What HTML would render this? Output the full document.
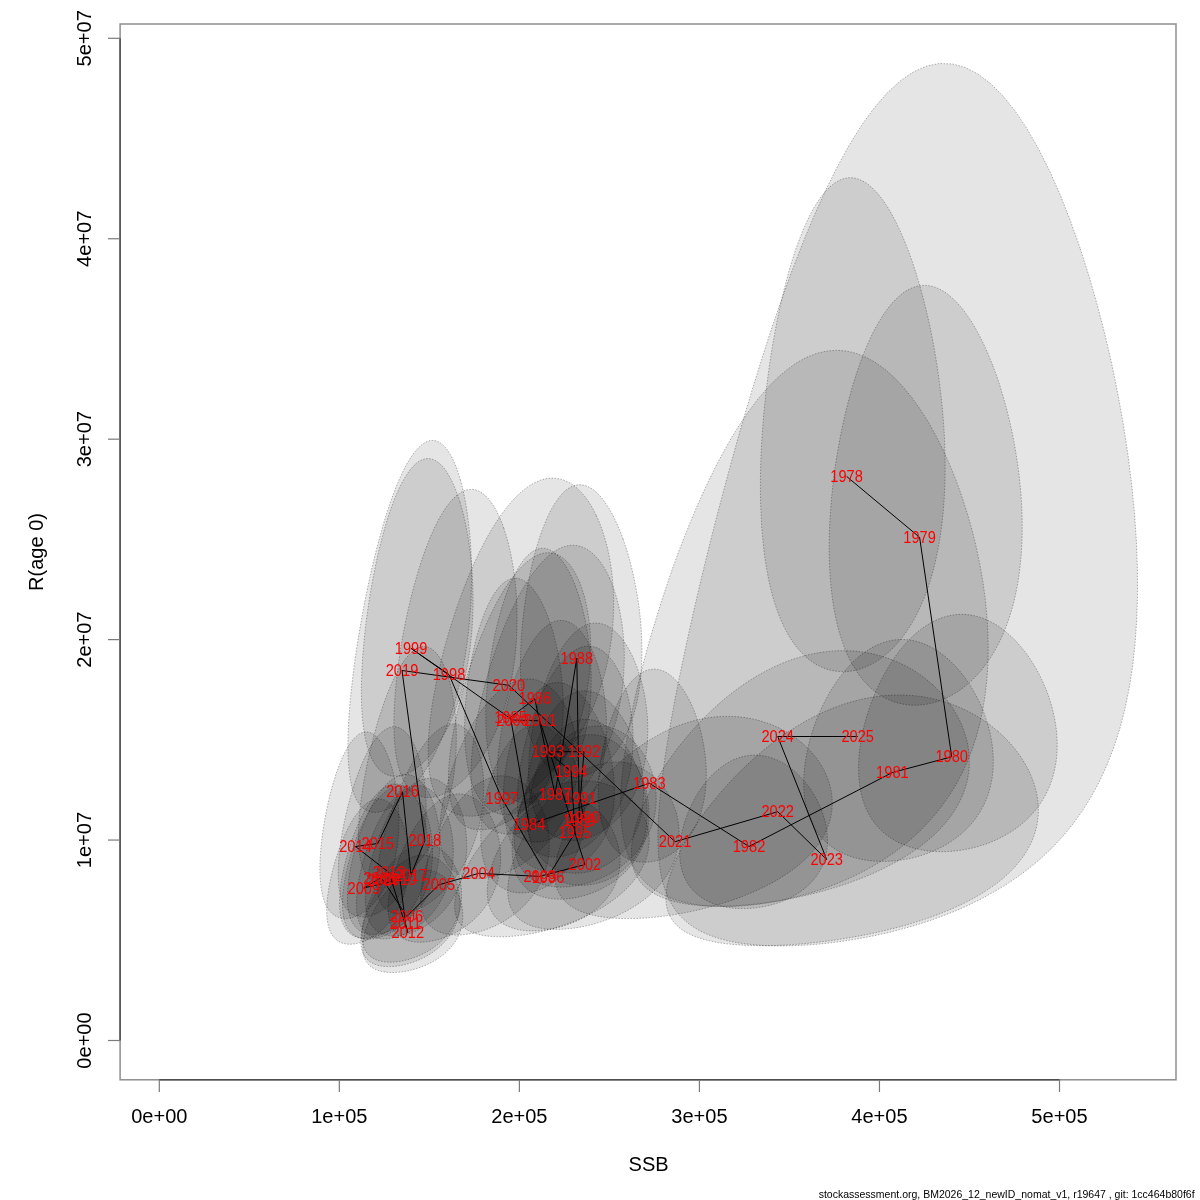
<!DOCTYPE html><html><head><meta charset="utf-8"><style>html,body{margin:0;padding:0;background:#fff;overflow:hidden}svg{display:block}</style></head><body><svg width="1200" height="1200" viewBox="0 0 1200 1200">
<rect width="1200" height="1200" fill="#fff"/>
<defs><clipPath id="c"><rect x="120" y="24" width="1056" height="1056"/></clipPath></defs>
<g clip-path="url(#c)">
<path d="M916.3,274.1 L912.6,262.5 L908.6,251.5 L904.5,241.0 L900.3,231.2 L895.9,222.0 L891.4,213.6 L886.9,206.0 L882.2,199.2 L877.5,193.3 L872.7,188.3 L867.9,184.2 L863.0,181.1 L858.2,179.0 L853.3,177.8 L848.4,177.7 L843.6,178.6 L838.9,180.5 L834.1,183.4 L829.5,187.2 L824.9,192.0 L820.4,197.7 L816.0,204.3 L811.7,211.7 L807.6,220.0 L803.6,228.9 L799.7,238.6 L795.9,248.9 L792.3,259.9 L788.9,271.3 L785.7,283.3 L782.6,295.6 L779.7,308.3 L777.0,321.3 L774.5,334.6 L772.1,348.0 L770.0,361.5 L768.1,375.2 L766.4,388.8 L764.9,402.4 L763.6,416.0 L762.5,429.4 L761.7,442.7 L761.0,455.7 L760.6,468.6 L760.4,481.2 L760.4,493.5 L760.7,505.4 L761.2,517.1 L761.8,528.4 L762.8,539.3 L763.9,549.8 L765.2,559.9 L766.8,569.6 L768.5,578.9 L770.5,587.7 L772.7,596.1 L775.0,604.1 L777.6,611.6 L780.4,618.7 L783.3,625.3 L786.4,631.5 L789.7,637.2 L793.2,642.5 L796.8,647.3 L800.6,651.7 L804.5,655.7 L808.6,659.2 L812.7,662.3 L817.0,664.9 L821.5,667.1 L826.0,668.9 L830.6,670.2 L835.2,671.1 L840.0,671.6 L844.8,671.7 L849.6,671.3 L854.4,670.5 L859.3,669.2 L864.2,667.6 L869.0,665.5 L873.8,662.9 L878.6,660.0 L883.3,656.6 L888.0,652.7 L892.5,648.4 L897.0,643.7 L901.3,638.5 L905.5,632.9 L909.6,626.8 L913.5,620.3 L917.2,613.3 L920.7,605.9 L924.1,598.0 L927.2,589.7 L930.1,581.0 L932.8,571.8 L935.2,562.2 L937.4,552.2 L939.4,541.8 L941.0,531.0 L942.4,519.8 L943.5,508.2 L944.3,496.3 L944.9,484.1 L945.1,471.6 L945.1,458.8 L944.8,445.8 L944.2,432.5 L943.3,419.2 L942.1,405.6 L940.6,392.0 L938.9,378.4 L936.9,364.7 L934.7,351.2 L932.2,337.7 L929.5,324.4 L926.5,311.4 L923.3,298.6 L919.9,286.1Z" fill="#000" fill-opacity="0.1" stroke="#000" stroke-opacity="0.3" stroke-width="1" stroke-dasharray="1.5,1.5"/>
<path d="M992.6,365.2 L988.7,355.5 L984.7,346.3 L980.4,337.5 L976.0,329.3 L971.5,321.7 L966.8,314.7 L962.1,308.4 L957.2,302.8 L952.3,297.9 L947.3,293.8 L942.3,290.5 L937.2,288.0 L932.2,286.3 L927.1,285.4 L922.0,285.4 L917.0,286.2 L912.0,287.9 L907.0,290.3 L902.2,293.6 L897.4,297.7 L892.6,302.6 L888.0,308.1 L883.5,314.4 L879.2,321.4 L874.9,329.0 L870.8,337.2 L866.9,345.9 L863.1,355.1 L859.5,364.8 L856.1,374.8 L852.8,385.2 L849.8,396.0 L846.9,406.9 L844.2,418.1 L841.8,429.5 L839.5,440.9 L837.5,452.5 L835.6,464.0 L834.0,475.5 L832.7,487.0 L831.5,498.4 L830.6,509.7 L829.9,520.8 L829.4,531.7 L829.2,542.4 L829.2,552.8 L829.5,563.0 L829.9,573.0 L830.6,582.6 L831.6,591.9 L832.7,600.9 L834.1,609.5 L835.7,617.8 L837.5,625.7 L839.6,633.3 L841.9,640.5 L844.3,647.3 L847.0,653.8 L849.9,659.9 L853.0,665.5 L856.2,670.8 L859.7,675.8 L863.3,680.3 L867.1,684.5 L871.0,688.2 L875.1,691.6 L879.4,694.6 L883.7,697.3 L888.2,699.5 L892.9,701.4 L897.6,702.9 L902.4,704.0 L907.2,704.8 L912.2,705.2 L917.2,705.2 L922.2,704.8 L927.3,704.1 L932.4,703.0 L937.5,701.5 L942.5,699.6 L947.5,697.4 L952.5,694.8 L957.5,691.8 L962.3,688.4 L967.0,684.6 L971.7,680.5 L976.2,676.0 L980.6,671.1 L984.8,665.8 L988.9,660.1 L992.8,654.1 L996.5,647.6 L1000.0,640.8 L1003.3,633.6 L1006.3,626.1 L1009.1,618.2 L1011.7,609.9 L1014.0,601.3 L1016.0,592.3 L1017.8,583.0 L1019.2,573.4 L1020.4,563.5 L1021.3,553.3 L1021.9,542.9 L1022.2,532.2 L1022.2,521.3 L1021.9,510.2 L1021.3,498.9 L1020.4,487.5 L1019.2,476.1 L1017.7,464.5 L1015.9,453.0 L1013.9,441.4 L1011.6,430.0 L1009.0,418.6 L1006.2,407.4 L1003.1,396.5 L999.9,385.7 L996.4,375.3Z" fill="#000" fill-opacity="0.1" stroke="#000" stroke-opacity="0.3" stroke-width="1" stroke-dasharray="1.5,1.5"/>
<path d="M1028.7,656.8 L1024.8,651.5 L1020.6,646.4 L1016.4,641.6 L1011.9,637.1 L1007.3,633.0 L1002.6,629.2 L997.8,625.8 L992.8,622.8 L987.8,620.3 L982.7,618.2 L977.5,616.5 L972.3,615.3 L967.1,614.6 L961.9,614.3 L956.7,614.5 L951.5,615.2 L946.3,616.4 L941.2,618.0 L936.1,620.1 L931.2,622.6 L926.3,625.5 L921.5,628.9 L916.8,632.6 L912.2,636.7 L907.8,641.2 L903.5,646.0 L899.4,651.0 L895.4,656.4 L891.6,661.9 L888.0,667.7 L884.5,673.7 L881.3,679.9 L878.2,686.1 L875.4,692.5 L872.7,698.9 L870.3,705.4 L868.1,712.0 L866.1,718.5 L864.3,725.0 L862.8,731.5 L861.5,737.9 L860.5,744.2 L859.6,750.4 L859.0,756.5 L858.7,762.5 L858.6,768.4 L858.7,774.1 L859.1,779.6 L859.7,784.9 L860.5,790.1 L861.6,795.1 L862.9,799.9 L864.5,804.5 L866.3,808.9 L868.3,813.0 L870.5,817.0 L872.9,820.7 L875.6,824.3 L878.5,827.6 L881.5,830.7 L884.8,833.6 L888.3,836.3 L891.9,838.7 L895.7,841.0 L899.7,843.0 L903.9,844.8 L908.2,846.4 L912.6,847.8 L917.2,849.0 L921.9,849.9 L926.7,850.7 L931.6,851.2 L936.6,851.5 L941.6,851.7 L946.8,851.6 L951.9,851.3 L957.1,850.7 L962.3,850.0 L967.6,849.1 L972.8,847.9 L978.0,846.5 L983.1,845.0 L988.2,843.2 L993.2,841.2 L998.2,838.9 L1003.0,836.5 L1007.7,833.8 L1012.3,831.0 L1016.7,827.9 L1021.0,824.6 L1025.1,821.1 L1029.0,817.3 L1032.7,813.4 L1036.2,809.2 L1039.4,804.9 L1042.4,800.3 L1045.2,795.5 L1047.7,790.5 L1049.9,785.4 L1051.8,780.1 L1053.5,774.5 L1054.8,768.9 L1055.9,763.0 L1056.6,757.1 L1057.1,751.0 L1057.2,744.7 L1057.0,738.4 L1056.6,732.0 L1055.8,725.6 L1054.7,719.1 L1053.3,712.5 L1051.7,706.0 L1049.7,699.5 L1047.5,693.1 L1044.9,686.7 L1042.2,680.4 L1039.1,674.2 L1035.9,668.3 L1032.4,662.4Z" fill="#000" fill-opacity="0.1" stroke="#000" stroke-opacity="0.3" stroke-width="1" stroke-dasharray="1.5,1.5"/>
<path d="M966.0,679.1 L962.2,674.1 L958.3,669.4 L954.2,664.9 L950.0,660.7 L945.6,656.9 L941.0,653.4 L936.4,650.2 L931.7,647.4 L926.9,645.1 L922.0,643.1 L917.1,641.5 L912.1,640.4 L907.1,639.7 L902.1,639.5 L897.1,639.7 L892.2,640.3 L887.3,641.4 L882.4,642.9 L877.5,644.9 L872.8,647.2 L868.1,650.0 L863.6,653.1 L859.1,656.6 L854.7,660.4 L850.5,664.5 L846.4,669.0 L842.5,673.7 L838.7,678.7 L835.1,683.9 L831.6,689.3 L828.3,694.9 L825.3,700.6 L822.3,706.5 L819.6,712.4 L817.1,718.4 L814.8,724.5 L812.7,730.6 L810.8,736.7 L809.2,742.8 L807.7,748.8 L806.5,754.8 L805.5,760.7 L804.7,766.5 L804.1,772.3 L803.8,777.9 L803.7,783.3 L803.8,788.6 L804.2,793.8 L804.7,798.8 L805.5,803.7 L806.6,808.3 L807.8,812.8 L809.3,817.1 L811.0,821.2 L812.9,825.1 L815.0,828.9 L817.3,832.4 L819.9,835.7 L822.6,838.8 L825.5,841.7 L828.6,844.4 L831.9,847.0 L835.4,849.3 L839.0,851.4 L842.8,853.3 L846.8,855.0 L850.9,856.5 L855.1,857.8 L859.5,858.9 L863.9,859.8 L868.5,860.5 L873.2,861.0 L878.0,861.3 L882.8,861.4 L887.7,861.3 L892.6,861.0 L897.6,860.5 L902.6,859.8 L907.6,859.0 L912.5,857.9 L917.5,856.6 L922.4,855.1 L927.3,853.4 L932.1,851.5 L936.8,849.5 L941.4,847.2 L946.0,844.7 L950.3,842.0 L954.6,839.1 L958.7,836.0 L962.6,832.7 L966.3,829.2 L969.9,825.5 L973.2,821.6 L976.3,817.5 L979.2,813.2 L981.8,808.7 L984.2,804.1 L986.3,799.3 L988.2,794.3 L989.7,789.1 L991.0,783.8 L992.1,778.3 L992.8,772.7 L993.2,767.0 L993.3,761.2 L993.2,755.3 L992.7,749.3 L992.0,743.3 L990.9,737.2 L989.6,731.1 L988.0,725.0 L986.1,719.0 L984.0,712.9 L981.6,707.0 L978.9,701.1 L976.0,695.4 L972.9,689.8 L969.6,684.4Z" fill="#000" fill-opacity="0.1" stroke="#000" stroke-opacity="0.3" stroke-width="1" stroke-dasharray="1.5,1.5"/>
<path d="M805.7,782.9 L802.8,779.4 L799.7,776.1 L796.5,773.0 L793.2,770.1 L789.7,767.5 L786.2,765.0 L782.6,762.8 L778.9,760.9 L775.1,759.2 L771.3,757.8 L767.5,756.7 L763.6,755.9 L759.7,755.3 L755.8,755.1 L752.0,755.2 L748.1,755.6 L744.3,756.3 L740.5,757.2 L736.7,758.5 L733.0,760.0 L729.4,761.9 L725.8,763.9 L722.4,766.3 L719.0,768.9 L715.7,771.7 L712.5,774.7 L709.5,777.9 L706.5,781.2 L703.7,784.8 L701.1,788.4 L698.5,792.2 L696.1,796.2 L693.9,800.2 L691.8,804.2 L689.9,808.4 L688.1,812.5 L686.5,816.7 L685.0,820.9 L683.8,825.1 L682.7,829.3 L681.7,833.5 L681.0,837.6 L680.4,841.6 L680.0,845.6 L679.8,849.5 L679.7,853.3 L679.8,857.0 L680.2,860.6 L680.6,864.1 L681.3,867.5 L682.1,870.8 L683.2,874.0 L684.3,877.0 L685.7,879.9 L687.2,882.7 L688.9,885.3 L690.8,887.8 L692.8,890.1 L694.9,892.3 L697.2,894.4 L699.7,896.3 L702.3,898.1 L705.0,899.8 L707.9,901.3 L710.9,902.7 L714.0,903.9 L717.2,905.0 L720.6,905.9 L724.0,906.7 L727.5,907.4 L731.1,907.9 L734.7,908.3 L738.5,908.5 L742.2,908.6 L746.1,908.6 L749.9,908.4 L753.8,908.1 L757.7,907.6 L761.6,907.0 L765.4,906.3 L769.3,905.4 L773.1,904.4 L776.9,903.3 L780.6,902.0 L784.3,900.5 L787.9,898.9 L791.4,897.2 L794.7,895.3 L798.0,893.3 L801.2,891.2 L804.2,888.9 L807.1,886.5 L809.8,883.9 L812.3,881.2 L814.7,878.4 L816.9,875.4 L818.9,872.3 L820.7,869.1 L822.4,865.7 L823.8,862.3 L824.9,858.7 L825.9,855.1 L826.6,851.3 L827.2,847.4 L827.5,843.5 L827.5,839.5 L827.3,835.4 L826.9,831.3 L826.3,827.1 L825.5,822.9 L824.4,818.7 L823.1,814.5 L821.6,810.3 L819.9,806.2 L818.0,802.1 L815.9,798.0 L813.6,794.1 L811.2,790.2 L808.5,786.5Z" fill="#000" fill-opacity="0.1" stroke="#000" stroke-opacity="0.3" stroke-width="1" stroke-dasharray="1.5,1.5"/>
<path d="M690.8,703.1 L688.6,698.9 L686.4,694.8 L684.1,691.0 L681.7,687.4 L679.2,684.1 L676.6,681.1 L674.0,678.4 L671.3,676.0 L668.6,674.0 L665.9,672.3 L663.1,670.9 L660.2,670.0 L657.4,669.4 L654.6,669.1 L651.7,669.3 L648.9,669.8 L646.1,670.6 L643.3,671.9 L640.6,673.5 L637.8,675.4 L635.2,677.7 L632.6,680.3 L630.0,683.2 L627.5,686.5 L625.1,690.0 L622.8,693.7 L620.5,697.7 L618.3,701.9 L616.2,706.3 L614.3,710.9 L612.4,715.7 L610.6,720.6 L608.9,725.6 L607.4,730.7 L605.9,735.8 L604.6,741.0 L603.4,746.3 L602.3,751.6 L601.4,756.8 L600.5,762.1 L599.8,767.3 L599.2,772.4 L598.8,777.5 L598.5,782.5 L598.3,787.4 L598.3,792.2 L598.3,796.9 L598.6,801.5 L598.9,805.9 L599.4,810.2 L600.0,814.3 L600.7,818.3 L601.6,822.2 L602.6,825.8 L603.7,829.3 L605.0,832.7 L606.3,835.8 L607.8,838.8 L609.4,841.6 L611.1,844.3 L612.9,846.7 L614.8,849.0 L616.8,851.1 L618.9,853.0 L621.1,854.7 L623.4,856.3 L625.8,857.7 L628.2,858.9 L630.7,859.9 L633.3,860.7 L635.9,861.4 L638.6,861.8 L641.3,862.1 L644.1,862.2 L646.9,862.2 L649.7,861.9 L652.5,861.5 L655.4,860.9 L658.2,860.1 L661.0,859.2 L663.8,858.0 L666.6,856.7 L669.4,855.2 L672.1,853.5 L674.8,851.6 L677.4,849.6 L679.9,847.4 L682.4,845.0 L684.7,842.4 L687.0,839.6 L689.2,836.7 L691.3,833.6 L693.3,830.3 L695.2,826.8 L696.9,823.2 L698.5,819.4 L700.0,815.5 L701.3,811.4 L702.4,807.1 L703.5,802.7 L704.3,798.2 L705.1,793.5 L705.6,788.8 L706.0,783.9 L706.2,778.9 L706.3,773.8 L706.2,768.7 L705.9,763.5 L705.5,758.3 L704.9,753.0 L704.1,747.8 L703.2,742.5 L702.1,737.3 L700.9,732.1 L699.6,727.0 L698.1,721.9 L696.4,717.0 L694.7,712.2 L692.8,707.6Z" fill="#000" fill-opacity="0.1" stroke="#000" stroke-opacity="0.3" stroke-width="1" stroke-dasharray="1.5,1.5"/>
<path d="M570.4,752.9 L568.4,749.2 L566.2,745.8 L564.0,742.5 L561.7,739.5 L559.3,736.8 L556.8,734.2 L554.3,732.0 L551.7,730.1 L549.1,728.4 L546.4,727.1 L543.7,726.1 L541.0,725.4 L538.3,725.0 L535.6,725.0 L532.8,725.2 L530.1,725.9 L527.4,726.8 L524.7,728.0 L522.1,729.6 L519.4,731.5 L516.9,733.6 L514.4,736.1 L511.9,738.8 L509.5,741.7 L507.2,744.9 L504.9,748.3 L502.7,751.9 L500.6,755.7 L498.6,759.7 L496.7,763.7 L494.9,768.0 L493.2,772.3 L491.5,776.7 L490.0,781.2 L488.6,785.7 L487.3,790.3 L486.1,794.9 L485.1,799.5 L484.1,804.1 L483.3,808.6 L482.6,813.1 L482.0,817.6 L481.5,822.0 L481.1,826.3 L480.9,830.5 L480.8,834.6 L480.8,838.6 L481.0,842.5 L481.2,846.3 L481.6,849.9 L482.1,853.5 L482.7,856.8 L483.5,860.1 L484.4,863.2 L485.3,866.1 L486.4,868.9 L487.7,871.6 L489.0,874.1 L490.4,876.4 L492.0,878.6 L493.6,880.6 L495.4,882.5 L497.2,884.2 L499.1,885.8 L501.2,887.2 L503.3,888.4 L505.5,889.5 L507.8,890.5 L510.1,891.3 L512.5,891.9 L515.0,892.4 L517.5,892.7 L520.1,892.9 L522.8,892.9 L525.4,892.8 L528.1,892.5 L530.8,892.0 L533.5,891.5 L536.3,890.7 L539.0,889.8 L541.7,888.7 L544.5,887.5 L547.1,886.2 L549.8,884.6 L552.4,883.0 L555.0,881.1 L557.5,879.1 L559.9,877.0 L562.3,874.7 L564.6,872.2 L566.8,869.6 L568.9,866.9 L570.9,864.0 L572.8,860.9 L574.6,857.7 L576.2,854.4 L577.7,850.9 L579.1,847.3 L580.3,843.5 L581.4,839.7 L582.3,835.7 L583.1,831.6 L583.7,827.4 L584.2,823.1 L584.5,818.7 L584.7,814.3 L584.6,809.8 L584.5,805.3 L584.1,800.7 L583.6,796.1 L582.9,791.5 L582.1,786.9 L581.1,782.4 L580.0,777.9 L578.7,773.5 L577.3,769.1 L575.8,764.8 L574.1,760.7 L572.3,756.7Z" fill="#000" fill-opacity="0.1" stroke="#000" stroke-opacity="0.3" stroke-width="1" stroke-dasharray="1.5,1.5"/>
<path d="M548.8,619.3 L546.9,614.1 L544.8,609.2 L542.6,604.5 L540.4,600.2 L538.1,596.2 L535.7,592.6 L533.3,589.3 L530.9,586.4 L528.3,584.0 L525.8,581.9 L523.2,580.3 L520.6,579.2 L518.0,578.4 L515.4,578.2 L512.8,578.4 L510.3,579.0 L507.7,580.1 L505.2,581.6 L502.7,583.6 L500.2,586.0 L497.8,588.8 L495.4,592.0 L493.1,595.5 L490.9,599.4 L488.7,603.7 L486.6,608.3 L484.5,613.2 L482.6,618.3 L480.7,623.7 L478.9,629.3 L477.2,635.1 L475.7,641.1 L474.2,647.2 L472.8,653.4 L471.5,659.7 L470.3,666.1 L469.2,672.5 L468.3,678.9 L467.4,685.3 L466.7,691.7 L466.0,698.1 L465.5,704.4 L465.1,710.6 L464.8,716.7 L464.7,722.8 L464.6,728.6 L464.7,734.4 L464.9,740.0 L465.2,745.4 L465.6,750.7 L466.1,755.8 L466.8,760.7 L467.5,765.4 L468.4,769.9 L469.4,774.2 L470.5,778.3 L471.7,782.2 L473.0,785.8 L474.4,789.3 L475.9,792.5 L477.5,795.5 L479.3,798.3 L481.0,800.9 L482.9,803.3 L484.9,805.4 L486.9,807.3 L489.1,809.0 L491.3,810.4 L493.5,811.7 L495.8,812.7 L498.2,813.5 L500.6,814.1 L503.1,814.4 L505.6,814.6 L508.2,814.5 L510.7,814.2 L513.3,813.6 L515.9,812.9 L518.5,811.9 L521.1,810.7 L523.7,809.3 L526.3,807.6 L528.8,805.8 L531.3,803.7 L533.8,801.3 L536.2,798.8 L538.5,796.1 L540.8,793.1 L543.0,789.9 L545.2,786.5 L547.2,782.8 L549.2,779.0 L551.0,774.9 L552.8,770.7 L554.4,766.2 L555.9,761.5 L557.3,756.7 L558.5,751.6 L559.6,746.4 L560.6,741.0 L561.4,735.4 L562.1,729.7 L562.6,723.8 L563.0,717.9 L563.2,711.8 L563.3,705.5 L563.2,699.3 L562.9,692.9 L562.5,686.5 L562.0,680.1 L561.3,673.6 L560.4,667.2 L559.4,660.8 L558.3,654.5 L557.0,648.3 L555.6,642.2 L554.1,636.2 L552.5,630.3 L550.7,624.7Z" fill="#000" fill-opacity="0.1" stroke="#000" stroke-opacity="0.3" stroke-width="1" stroke-dasharray="1.5,1.5"/>
<path d="M576.8,589.9 L574.8,584.4 L572.6,579.3 L570.4,574.4 L568.0,569.9 L565.6,565.8 L563.1,562.0 L560.5,558.7 L557.9,555.8 L555.3,553.4 L552.6,551.4 L549.8,549.9 L547.1,548.9 L544.3,548.4 L541.5,548.3 L538.7,548.8 L536.0,549.7 L533.2,551.1 L530.5,553.1 L527.8,555.4 L525.1,558.2 L522.5,561.5 L520.0,565.2 L517.5,569.2 L515.0,573.7 L512.7,578.5 L510.4,583.6 L508.1,589.1 L506.0,594.8 L504.0,600.7 L502.0,606.9 L500.2,613.3 L498.4,619.8 L496.8,626.5 L495.2,633.3 L493.8,640.1 L492.5,647.1 L491.2,654.0 L490.1,660.9 L489.2,667.9 L488.3,674.8 L487.6,681.6 L487.0,688.4 L486.5,695.0 L486.1,701.6 L485.9,708.0 L485.8,714.2 L485.8,720.3 L485.9,726.3 L486.2,732.0 L486.5,737.6 L487.1,742.9 L487.7,748.1 L488.4,753.1 L489.3,757.8 L490.3,762.3 L491.4,766.6 L492.6,770.6 L494.0,774.4 L495.4,778.0 L497.0,781.4 L498.7,784.5 L500.4,787.4 L502.3,790.0 L504.3,792.4 L506.3,794.6 L508.5,796.5 L510.7,798.2 L513.0,799.6 L515.4,800.8 L517.8,801.8 L520.4,802.5 L522.9,803.0 L525.5,803.3 L528.2,803.3 L530.9,803.1 L533.6,802.6 L536.4,801.9 L539.2,801.0 L541.9,799.8 L544.7,798.4 L547.5,796.7 L550.2,794.9 L553.0,792.7 L555.7,790.4 L558.3,787.8 L560.9,784.9 L563.5,781.9 L566.0,778.5 L568.4,775.0 L570.7,771.2 L573.0,767.2 L575.1,763.0 L577.1,758.5 L579.1,753.8 L580.9,748.9 L582.5,743.7 L584.1,738.4 L585.5,732.9 L586.7,727.2 L587.9,721.2 L588.8,715.2 L589.6,708.9 L590.3,702.5 L590.7,696.0 L591.1,689.4 L591.2,682.6 L591.2,675.8 L591.0,668.9 L590.7,662.0 L590.2,655.1 L589.5,648.1 L588.7,641.2 L587.7,634.3 L586.6,627.5 L585.3,620.8 L583.8,614.3 L582.3,607.9 L580.6,601.7 L578.8,595.7Z" fill="#000" fill-opacity="0.1" stroke="#000" stroke-opacity="0.3" stroke-width="1" stroke-dasharray="1.5,1.5"/>
<path d="M597.1,718.0 L594.8,713.7 L592.4,709.7 L589.9,705.8 L587.4,702.1 L584.8,698.8 L582.1,695.7 L579.3,692.9 L576.5,690.4 L573.6,688.2 L570.7,686.4 L567.8,684.9 L564.9,683.7 L562.0,683.0 L559.1,682.6 L556.1,682.5 L553.3,682.9 L550.4,683.6 L547.5,684.6 L544.7,686.0 L542.0,687.8 L539.3,689.9 L536.7,692.3 L534.1,695.1 L531.6,698.1 L529.2,701.4 L526.8,705.0 L524.6,708.8 L522.5,712.9 L520.4,717.1 L518.4,721.6 L516.6,726.2 L514.9,730.9 L513.2,735.8 L511.7,740.8 L510.3,745.8 L509.1,750.9 L507.9,756.1 L506.9,761.2 L506.0,766.4 L505.2,771.5 L504.6,776.6 L504.1,781.7 L503.7,786.7 L503.4,791.7 L503.3,796.5 L503.3,801.3 L503.5,805.9 L503.8,810.4 L504.2,814.8 L504.7,819.0 L505.4,823.2 L506.2,827.1 L507.1,830.9 L508.1,834.6 L509.3,838.1 L510.6,841.4 L512.0,844.5 L513.6,847.5 L515.2,850.3 L517.0,853.0 L518.8,855.4 L520.8,857.7 L522.9,859.9 L525.1,861.8 L527.3,863.6 L529.7,865.1 L532.1,866.6 L534.6,867.8 L537.2,868.9 L539.9,869.8 L542.6,870.5 L545.3,871.0 L548.1,871.4 L551.0,871.6 L553.9,871.6 L556.8,871.4 L559.7,871.1 L562.6,870.6 L565.5,869.9 L568.4,869.1 L571.4,868.0 L574.2,866.8 L577.1,865.5 L579.9,863.9 L582.6,862.2 L585.3,860.3 L587.9,858.2 L590.5,855.9 L592.9,853.5 L595.3,850.9 L597.5,848.1 L599.7,845.2 L601.7,842.1 L603.6,838.8 L605.3,835.3 L607.0,831.7 L608.4,827.9 L609.8,824.0 L610.9,819.9 L611.9,815.7 L612.8,811.3 L613.5,806.8 L614.0,802.2 L614.3,797.5 L614.4,792.7 L614.4,787.8 L614.2,782.8 L613.9,777.7 L613.3,772.6 L612.6,767.5 L611.7,762.3 L610.7,757.1 L609.5,752.0 L608.1,746.9 L606.6,741.8 L605.0,736.8 L603.2,731.9 L601.3,727.2 L599.2,722.5Z" fill="#000" fill-opacity="0.1" stroke="#000" stroke-opacity="0.3" stroke-width="1" stroke-dasharray="1.5,1.5"/>
<path d="M623.1,539.1 L620.6,532.4 L618.0,526.1 L615.3,520.2 L612.5,514.6 L609.6,509.4 L606.6,504.7 L603.6,500.4 L600.6,496.6 L597.4,493.2 L594.3,490.5 L591.1,488.2 L587.9,486.5 L584.7,485.3 L581.5,484.8 L578.3,484.8 L575.1,485.3 L572.0,486.4 L568.9,488.1 L565.8,490.3 L562.8,493.1 L559.9,496.4 L557.0,500.2 L554.2,504.5 L551.5,509.2 L548.8,514.3 L546.3,519.9 L543.8,525.9 L541.5,532.1 L539.2,538.8 L537.1,545.6 L535.1,552.8 L533.2,560.1 L531.4,567.7 L529.7,575.4 L528.2,583.2 L526.8,591.1 L525.6,599.0 L524.4,607.0 L523.4,615.0 L522.6,623.0 L521.9,630.9 L521.3,638.7 L520.9,646.4 L520.6,654.1 L520.5,661.6 L520.5,668.9 L520.6,676.1 L520.9,683.0 L521.3,689.8 L521.9,696.4 L522.6,702.7 L523.5,708.8 L524.5,714.7 L525.6,720.3 L526.9,725.7 L528.3,730.9 L529.8,735.7 L531.5,740.3 L533.3,744.7 L535.2,748.7 L537.2,752.5 L539.3,756.1 L541.6,759.3 L543.9,762.3 L546.4,765.0 L548.9,767.5 L551.6,769.6 L554.3,771.5 L557.1,773.2 L560.0,774.5 L563.0,775.6 L566.0,776.4 L569.0,777.0 L572.1,777.2 L575.3,777.2 L578.5,777.0 L581.6,776.4 L584.8,775.6 L588.1,774.6 L591.2,773.2 L594.4,771.6 L597.6,769.7 L600.7,767.6 L603.8,765.1 L606.8,762.4 L609.7,759.5 L612.6,756.2 L615.4,752.7 L618.1,748.9 L620.7,744.9 L623.2,740.5 L625.5,735.9 L627.7,731.1 L629.8,726.0 L631.8,720.6 L633.6,715.0 L635.2,709.1 L636.7,703.0 L638.0,696.7 L639.1,690.1 L640.0,683.3 L640.8,676.4 L641.4,669.2 L641.7,661.9 L641.9,654.4 L641.9,646.8 L641.7,639.1 L641.3,631.2 L640.8,623.3 L640.0,615.3 L639.1,607.4 L637.9,599.4 L636.6,591.4 L635.1,583.5 L633.5,575.7 L631.7,568.0 L629.7,560.5 L627.7,553.1 L625.4,545.9Z" fill="#000" fill-opacity="0.1" stroke="#000" stroke-opacity="0.3" stroke-width="1" stroke-dasharray="1.5,1.5"/>
<path d="M639.4,748.2 L636.8,745.0 L634.0,742.0 L631.1,739.2 L628.0,736.6 L624.8,734.3 L621.5,732.2 L618.1,730.4 L614.6,728.9 L611.1,727.7 L607.5,726.8 L603.8,726.2 L600.1,725.9 L596.4,726.0 L592.7,726.3 L588.9,726.9 L585.2,727.9 L581.4,729.1 L577.7,730.6 L574.1,732.4 L570.5,734.5 L566.9,736.9 L563.4,739.4 L560.0,742.3 L556.7,745.3 L553.4,748.6 L550.2,752.0 L547.2,755.6 L544.2,759.4 L541.4,763.3 L538.7,767.3 L536.1,771.5 L533.6,775.7 L531.3,780.0 L529.1,784.3 L527.1,788.7 L525.2,793.1 L523.4,797.4 L521.8,801.8 L520.4,806.2 L519.1,810.5 L517.9,814.7 L516.9,818.9 L516.1,823.1 L515.5,827.1 L515.0,831.1 L514.6,834.9 L514.5,838.7 L514.4,842.3 L514.6,845.8 L514.9,849.2 L515.4,852.4 L516.0,855.5 L516.9,858.5 L517.8,861.4 L518.9,864.1 L520.2,866.6 L521.7,869.0 L523.2,871.3 L525.0,873.4 L526.9,875.3 L528.9,877.2 L531.1,878.8 L533.4,880.3 L535.8,881.7 L538.4,882.9 L541.1,883.9 L543.9,884.8 L546.9,885.6 L549.9,886.2 L553.1,886.6 L556.3,886.9 L559.7,887.1 L563.1,887.0 L566.6,886.9 L570.1,886.6 L573.7,886.1 L577.4,885.5 L581.1,884.7 L584.8,883.8 L588.5,882.8 L592.3,881.5 L596.0,880.2 L599.7,878.7 L603.4,877.0 L607.1,875.2 L610.7,873.2 L614.3,871.1 L617.8,868.8 L621.2,866.4 L624.5,863.8 L627.7,861.1 L630.7,858.2 L633.7,855.2 L636.5,852.1 L639.2,848.8 L641.7,845.4 L644.0,841.9 L646.1,838.3 L648.1,834.5 L649.9,830.7 L651.4,826.7 L652.8,822.6 L653.9,818.5 L654.8,814.3 L655.5,810.0 L656.0,805.7 L656.2,801.4 L656.2,797.0 L656.0,792.6 L655.6,788.2 L654.9,783.9 L654.0,779.5 L652.9,775.3 L651.6,771.0 L650.0,766.9 L648.3,762.9 L646.3,759.0 L644.2,755.3 L641.9,751.7Z" fill="#000" fill-opacity="0.1" stroke="#000" stroke-opacity="0.3" stroke-width="1" stroke-dasharray="1.5,1.5"/>
<path d="M628.4,750.4 L625.9,746.6 L623.4,743.0 L620.7,739.7 L618.0,736.5 L615.1,733.5 L612.2,730.8 L609.3,728.4 L606.3,726.2 L603.2,724.3 L600.1,722.7 L597.0,721.4 L593.9,720.3 L590.7,719.7 L587.6,719.3 L584.5,719.2 L581.4,719.5 L578.3,720.1 L575.2,721.0 L572.2,722.2 L569.3,723.7 L566.4,725.5 L563.6,727.6 L560.8,730.0 L558.2,732.6 L555.6,735.5 L553.1,738.6 L550.7,741.9 L548.4,745.5 L546.2,749.2 L544.1,753.0 L542.1,757.0 L540.3,761.2 L538.5,765.4 L536.9,769.8 L535.5,774.2 L534.1,778.6 L532.9,783.1 L531.8,787.6 L530.8,792.2 L530.0,796.7 L529.3,801.2 L528.8,805.6 L528.4,810.0 L528.1,814.4 L528.0,818.6 L528.0,822.8 L528.2,826.9 L528.5,830.9 L528.9,834.8 L529.5,838.5 L530.3,842.2 L531.1,845.7 L532.1,849.0 L533.2,852.3 L534.5,855.4 L535.9,858.3 L537.4,861.1 L539.1,863.8 L540.9,866.3 L542.8,868.6 L544.8,870.8 L546.9,872.9 L549.1,874.8 L551.4,876.5 L553.9,878.1 L556.4,879.5 L559.0,880.8 L561.7,881.9 L564.5,882.8 L567.3,883.6 L570.2,884.3 L573.2,884.8 L576.2,885.1 L579.3,885.3 L582.3,885.3 L585.5,885.2 L588.6,884.9 L591.7,884.4 L594.9,883.8 L598.0,883.1 L601.1,882.2 L604.2,881.1 L607.2,879.9 L610.2,878.5 L613.2,877.0 L616.0,875.3 L618.8,873.5 L621.6,871.5 L624.2,869.3 L626.7,867.0 L629.1,864.6 L631.4,862.0 L633.6,859.2 L635.6,856.3 L637.5,853.3 L639.2,850.1 L640.8,846.8 L642.2,843.3 L643.4,839.7 L644.5,836.0 L645.4,832.1 L646.1,828.2 L646.6,824.1 L647.0,820.0 L647.1,815.7 L647.1,811.4 L646.9,807.0 L646.5,802.6 L645.9,798.1 L645.1,793.6 L644.2,789.1 L643.0,784.6 L641.7,780.1 L640.3,775.6 L638.7,771.1 L636.9,766.8 L635.0,762.5 L632.9,758.3 L630.7,754.3Z" fill="#000" fill-opacity="0.1" stroke="#000" stroke-opacity="0.3" stroke-width="1" stroke-dasharray="1.5,1.5"/>
<path d="M625.8,723.5 L623.4,719.4 L620.9,715.6 L618.3,711.9 L615.7,708.5 L612.9,705.3 L610.0,702.5 L607.1,699.9 L604.1,697.6 L601.1,695.6 L598.1,694.0 L595.0,692.6 L591.9,691.7 L588.8,691.0 L585.6,690.8 L582.5,690.8 L579.4,691.3 L576.4,692.1 L573.3,693.2 L570.4,694.7 L567.4,696.4 L564.5,698.6 L561.7,701.0 L558.9,703.7 L556.3,706.7 L553.7,710.0 L551.2,713.5 L548.7,717.3 L546.4,721.2 L544.2,725.4 L542.1,729.7 L540.1,734.2 L538.2,738.8 L536.4,743.5 L534.8,748.3 L533.3,753.2 L531.9,758.1 L530.6,763.1 L529.5,768.0 L528.5,773.0 L527.6,778.0 L526.9,782.9 L526.3,787.8 L525.8,792.6 L525.5,797.3 L525.3,802.0 L525.3,806.5 L525.4,810.9 L525.7,815.3 L526.1,819.5 L526.6,823.5 L527.2,827.5 L528.1,831.3 L529.0,834.9 L530.1,838.4 L531.3,841.7 L532.6,844.9 L534.1,847.9 L535.7,850.7 L537.4,853.4 L539.2,855.9 L541.2,858.3 L543.2,860.4 L545.4,862.4 L547.7,864.2 L550.1,865.9 L552.5,867.4 L555.1,868.7 L557.7,869.9 L560.5,870.8 L563.3,871.6 L566.1,872.3 L569.0,872.8 L572.0,873.1 L575.0,873.2 L578.1,873.1 L581.2,872.9 L584.3,872.6 L587.4,872.0 L590.5,871.3 L593.6,870.4 L596.7,869.4 L599.8,868.1 L602.8,866.7 L605.8,865.2 L608.7,863.4 L611.6,861.5 L614.4,859.5 L617.2,857.2 L619.8,854.8 L622.3,852.2 L624.8,849.5 L627.1,846.6 L629.3,843.5 L631.3,840.2 L633.3,836.8 L635.0,833.3 L636.7,829.6 L638.1,825.7 L639.4,821.7 L640.6,817.6 L641.5,813.4 L642.3,809.0 L642.9,804.5 L643.3,799.9 L643.5,795.2 L643.6,790.4 L643.4,785.6 L643.1,780.7 L642.6,775.7 L641.9,770.8 L641.0,765.8 L640.0,760.8 L638.7,755.9 L637.3,751.0 L635.8,746.1 L634.1,741.4 L632.2,736.7 L630.2,732.1 L628.1,727.7Z" fill="#000" fill-opacity="0.1" stroke="#000" stroke-opacity="0.3" stroke-width="1" stroke-dasharray="1.5,1.5"/>
<path d="M632.6,656.5 L630.3,651.9 L627.9,647.6 L625.4,643.6 L622.8,639.9 L620.1,636.5 L617.3,633.5 L614.4,630.8 L611.5,628.5 L608.5,626.6 L605.5,625.1 L602.4,624.0 L599.3,623.3 L596.2,623.1 L593.0,623.2 L589.9,623.8 L586.8,624.8 L583.6,626.2 L580.5,628.0 L577.5,630.2 L574.4,632.8 L571.5,635.8 L568.5,639.1 L565.7,642.7 L562.9,646.7 L560.2,650.9 L557.5,655.4 L555.0,660.2 L552.5,665.1 L550.2,670.3 L547.9,675.7 L545.8,681.2 L543.7,686.8 L541.8,692.5 L540.0,698.4 L538.3,704.3 L536.8,710.2 L535.3,716.1 L534.0,722.0 L532.9,727.9 L531.9,733.8 L531.0,739.6 L530.2,745.3 L529.6,750.9 L529.1,756.5 L528.8,761.9 L528.6,767.1 L528.5,772.3 L528.6,777.3 L528.8,782.1 L529.2,786.8 L529.7,791.2 L530.4,795.5 L531.2,799.7 L532.1,803.6 L533.1,807.4 L534.3,810.9 L535.7,814.3 L537.1,817.4 L538.7,820.4 L540.4,823.1 L542.3,825.7 L544.2,828.1 L546.3,830.2 L548.4,832.1 L550.7,833.9 L553.1,835.4 L555.6,836.8 L558.2,837.9 L560.8,838.8 L563.5,839.6 L566.4,840.1 L569.2,840.4 L572.2,840.5 L575.2,840.5 L578.2,840.2 L581.3,839.7 L584.4,839.0 L587.5,838.1 L590.6,837.1 L593.8,835.8 L596.9,834.3 L600.0,832.6 L603.1,830.7 L606.2,828.6 L609.2,826.3 L612.2,823.8 L615.1,821.1 L618.0,818.2 L620.8,815.0 L623.4,811.7 L626.0,808.2 L628.5,804.5 L630.8,800.6 L633.1,796.5 L635.2,792.3 L637.1,787.8 L639.0,783.2 L640.6,778.4 L642.1,773.5 L643.4,768.4 L644.6,763.1 L645.6,757.8 L646.4,752.3 L647.0,746.7 L647.5,741.0 L647.7,735.2 L647.8,729.3 L647.7,723.4 L647.4,717.5 L646.9,711.6 L646.2,705.7 L645.4,699.8 L644.4,693.9 L643.1,688.2 L641.8,682.5 L640.2,677.0 L638.5,671.6 L636.7,666.3 L634.7,661.3Z" fill="#000" fill-opacity="0.1" stroke="#000" stroke-opacity="0.3" stroke-width="1" stroke-dasharray="1.5,1.5"/>
<path d="M593.2,652.9 L591.2,648.3 L589.0,644.0 L586.8,640.0 L584.4,636.3 L582.0,633.0 L579.5,630.0 L576.9,627.4 L574.2,625.2 L571.5,623.4 L568.7,622.1 L565.9,621.1 L563.1,620.6 L560.2,620.5 L557.4,620.8 L554.5,621.5 L551.6,622.7 L548.8,624.3 L545.9,626.4 L543.1,628.8 L540.3,631.6 L537.6,634.7 L534.9,638.2 L532.2,642.1 L529.7,646.2 L527.1,650.7 L524.7,655.4 L522.3,660.4 L520.1,665.5 L517.9,670.9 L515.8,676.4 L513.8,682.1 L511.9,687.9 L510.1,693.8 L508.4,699.8 L506.8,705.8 L505.3,711.9 L504.0,717.9 L502.7,724.0 L501.6,730.0 L500.6,735.9 L499.8,741.8 L499.0,747.6 L498.4,753.3 L497.9,758.9 L497.6,764.3 L497.3,769.6 L497.2,774.8 L497.3,779.8 L497.4,784.7 L497.7,789.3 L498.1,793.8 L498.7,798.1 L499.3,802.2 L500.1,806.2 L501.1,809.9 L502.1,813.4 L503.3,816.7 L504.6,819.9 L506.0,822.8 L507.5,825.5 L509.1,828.0 L510.9,830.3 L512.7,832.4 L514.7,834.3 L516.7,836.0 L518.9,837.4 L521.1,838.7 L523.4,839.8 L525.8,840.7 L528.3,841.3 L530.9,841.8 L533.5,842.0 L536.1,842.1 L538.9,841.9 L541.6,841.6 L544.4,841.0 L547.2,840.2 L550.1,839.2 L553.0,838.1 L555.8,836.7 L558.7,835.1 L561.6,833.3 L564.4,831.3 L567.3,829.1 L570.0,826.7 L572.8,824.1 L575.5,821.2 L578.1,818.2 L580.7,815.0 L583.2,811.6 L585.6,807.9 L587.9,804.1 L590.1,800.1 L592.1,795.9 L594.1,791.5 L596.0,786.9 L597.7,782.1 L599.2,777.2 L600.7,772.1 L602.0,766.8 L603.1,761.5 L604.1,755.9 L604.9,750.3 L605.5,744.5 L606.0,738.7 L606.3,732.8 L606.4,726.8 L606.4,720.8 L606.2,714.7 L605.8,708.7 L605.2,702.6 L604.5,696.6 L603.6,690.7 L602.6,684.8 L601.4,679.1 L600.0,673.5 L598.5,668.0 L596.9,662.8 L595.1,657.7Z" fill="#000" fill-opacity="0.1" stroke="#000" stroke-opacity="0.3" stroke-width="1" stroke-dasharray="1.5,1.5"/>
<path d="M620.3,674.6 L618.2,670.3 L616.0,666.4 L613.7,662.7 L611.3,659.4 L608.7,656.4 L606.1,653.8 L603.4,651.5 L600.6,649.6 L597.8,648.1 L594.9,647.0 L591.9,646.4 L588.9,646.1 L585.9,646.2 L582.9,646.8 L579.8,647.8 L576.8,649.1 L573.8,650.9 L570.7,653.0 L567.7,655.6 L564.8,658.4 L561.8,661.7 L558.9,665.2 L556.1,669.1 L553.3,673.2 L550.6,677.6 L548.0,682.3 L545.4,687.1 L543.0,692.2 L540.6,697.4 L538.3,702.8 L536.1,708.3 L534.1,713.9 L532.1,719.6 L530.2,725.3 L528.5,731.1 L526.8,736.8 L525.3,742.6 L524.0,748.3 L522.7,754.0 L521.6,759.7 L520.6,765.2 L519.7,770.7 L519.0,776.0 L518.4,781.3 L517.9,786.4 L517.6,791.3 L517.4,796.1 L517.4,800.8 L517.5,805.3 L517.7,809.6 L518.1,813.8 L518.6,817.7 L519.2,821.5 L520.0,825.1 L520.9,828.6 L521.9,831.8 L523.1,834.8 L524.4,837.7 L525.8,840.3 L527.3,842.8 L529.0,845.0 L530.8,847.1 L532.7,849.0 L534.7,850.6 L536.8,852.1 L539.0,853.4 L541.3,854.5 L543.7,855.4 L546.2,856.1 L548.8,856.6 L551.5,856.9 L554.2,857.0 L557.0,857.0 L559.8,856.7 L562.7,856.3 L565.7,855.6 L568.7,854.8 L571.7,853.7 L574.7,852.5 L577.7,851.1 L580.8,849.5 L583.8,847.7 L586.9,845.7 L589.9,843.5 L592.9,841.1 L595.8,838.5 L598.7,835.7 L601.5,832.7 L604.3,829.6 L606.9,826.2 L609.5,822.7 L612.0,818.9 L614.4,815.0 L616.7,810.9 L618.9,806.7 L620.9,802.2 L622.8,797.6 L624.6,792.8 L626.2,787.9 L627.6,782.8 L628.9,777.6 L630.0,772.3 L631.0,766.9 L631.8,761.4 L632.4,755.8 L632.8,750.1 L633.0,744.4 L633.1,738.6 L633.0,732.9 L632.7,727.1 L632.2,721.3 L631.5,715.6 L630.7,710.0 L629.7,704.5 L628.5,699.1 L627.2,693.8 L625.7,688.7 L624.0,683.8 L622.2,679.0Z" fill="#000" fill-opacity="0.1" stroke="#000" stroke-opacity="0.3" stroke-width="1" stroke-dasharray="1.5,1.5"/>
<path d="M632.0,759.2 L629.4,755.8 L626.6,752.6 L623.7,749.6 L620.7,746.8 L617.6,744.3 L614.4,742.0 L611.1,740.1 L607.7,738.4 L604.3,737.0 L600.8,735.9 L597.2,735.2 L593.7,734.8 L590.1,734.7 L586.4,734.9 L582.8,735.4 L579.2,736.3 L575.6,737.5 L572.1,738.9 L568.6,740.7 L565.1,742.8 L561.7,745.1 L558.3,747.7 L555.0,750.6 L551.8,753.7 L548.7,757.0 L545.7,760.5 L542.8,764.2 L540.0,768.0 L537.3,772.0 L534.7,776.2 L532.2,780.4 L529.9,784.7 L527.7,789.1 L525.6,793.6 L523.7,798.1 L521.9,802.6 L520.2,807.1 L518.7,811.6 L517.4,816.0 L516.2,820.4 L515.1,824.8 L514.2,829.1 L513.5,833.3 L512.9,837.5 L512.5,841.5 L512.2,845.5 L512.1,849.3 L512.2,853.0 L512.4,856.6 L512.8,860.1 L513.3,863.4 L514.0,866.6 L514.8,869.6 L515.8,872.5 L516.9,875.3 L518.2,877.9 L519.7,880.3 L521.3,882.7 L523.0,884.8 L524.9,886.8 L526.9,888.7 L529.1,890.4 L531.4,891.9 L533.8,893.3 L536.3,894.6 L539.0,895.7 L541.8,896.6 L544.7,897.4 L547.6,898.1 L550.7,898.6 L553.9,898.9 L557.1,899.1 L560.5,899.2 L563.9,899.1 L567.3,898.8 L570.8,898.4 L574.4,897.9 L577.9,897.2 L581.5,896.3 L585.2,895.3 L588.8,894.2 L592.4,892.9 L596.0,891.4 L599.5,889.8 L603.1,888.0 L606.5,886.1 L609.9,884.1 L613.3,881.9 L616.5,879.5 L619.7,877.0 L622.7,874.3 L625.6,871.5 L628.4,868.6 L631.1,865.5 L633.6,862.2 L635.9,858.9 L638.1,855.3 L640.1,851.7 L641.9,848.0 L643.5,844.1 L644.9,840.1 L646.2,836.0 L647.2,831.9 L648.0,827.6 L648.6,823.3 L648.9,818.9 L649.1,814.4 L649.0,810.0 L648.7,805.5 L648.2,801.0 L647.5,796.5 L646.5,792.0 L645.4,787.6 L644.0,783.2 L642.5,778.9 L640.7,774.7 L638.8,770.6 L636.7,766.7 L634.4,762.9Z" fill="#000" fill-opacity="0.1" stroke="#000" stroke-opacity="0.3" stroke-width="1" stroke-dasharray="1.5,1.5"/>
<path d="M603.6,816.6 L601.0,813.8 L598.4,811.1 L595.6,808.7 L592.7,806.4 L589.7,804.3 L586.6,802.5 L583.4,800.9 L580.1,799.5 L576.7,798.4 L573.3,797.6 L569.9,797.0 L566.4,796.7 L562.9,796.6 L559.4,796.8 L555.9,797.3 L552.4,798.0 L548.9,799.0 L545.5,800.2 L542.1,801.7 L538.7,803.5 L535.4,805.4 L532.1,807.6 L528.9,810.0 L525.8,812.5 L522.8,815.3 L519.9,818.2 L517.1,821.2 L514.3,824.4 L511.7,827.7 L509.2,831.1 L506.8,834.6 L504.6,838.2 L502.4,841.8 L500.4,845.4 L498.5,849.1 L496.8,852.8 L495.2,856.5 L493.7,860.1 L492.4,863.8 L491.2,867.4 L490.2,871.0 L489.3,874.5 L488.6,877.9 L488.0,881.3 L487.6,884.6 L487.4,887.8 L487.2,890.9 L487.3,893.9 L487.5,896.8 L487.8,899.6 L488.3,902.3 L488.9,904.8 L489.7,907.3 L490.7,909.6 L491.8,911.8 L493.0,913.9 L494.4,915.9 L495.9,917.8 L497.6,919.5 L499.4,921.1 L501.3,922.6 L503.4,924.0 L505.6,925.2 L507.9,926.3 L510.4,927.3 L512.9,928.2 L515.6,928.9 L518.4,929.6 L521.2,930.1 L524.2,930.5 L527.3,930.7 L530.4,930.9 L533.6,930.9 L536.9,930.8 L540.2,930.6 L543.6,930.3 L547.1,929.8 L550.5,929.2 L554.0,928.5 L557.5,927.7 L561.0,926.8 L564.5,925.7 L568.0,924.5 L571.5,923.2 L574.9,921.8 L578.3,920.3 L581.6,918.6 L584.9,916.8 L588.0,914.9 L591.1,912.8 L594.1,910.7 L596.9,908.4 L599.6,906.0 L602.2,903.5 L604.7,900.8 L607.0,898.1 L609.1,895.2 L611.1,892.3 L612.9,889.2 L614.5,886.1 L615.9,882.8 L617.1,879.5 L618.1,876.1 L618.9,872.6 L619.5,869.1 L619.9,865.5 L620.0,861.8 L620.0,858.2 L619.7,854.5 L619.2,850.8 L618.5,847.1 L617.6,843.5 L616.5,839.8 L615.2,836.2 L613.7,832.7 L612.1,829.3 L610.2,825.9 L608.1,822.7 L605.9,819.6Z" fill="#000" fill-opacity="0.1" stroke="#000" stroke-opacity="0.3" stroke-width="1" stroke-dasharray="1.5,1.5"/>
<path d="M563.5,703.2 L561.0,699.4 L558.4,695.8 L555.6,692.5 L552.7,689.6 L549.7,686.9 L546.5,684.7 L543.3,682.7 L539.9,681.2 L536.5,680.1 L533.0,679.3 L529.5,678.9 L525.9,679.0 L522.2,679.4 L518.6,680.2 L514.9,681.5 L511.3,683.1 L507.6,685.0 L504.0,687.4 L500.4,690.1 L496.9,693.1 L493.4,696.4 L489.9,700.0 L486.6,703.9 L483.3,708.1 L480.1,712.5 L476.9,717.1 L473.9,721.9 L471.0,726.9 L468.1,732.0 L465.4,737.2 L462.9,742.5 L460.4,747.9 L458.0,753.4 L455.8,758.9 L453.7,764.3 L451.8,769.8 L450.0,775.3 L448.3,780.7 L446.8,786.0 L445.4,791.3 L444.2,796.5 L443.1,801.6 L442.2,806.5 L441.4,811.4 L440.8,816.1 L440.3,820.7 L440.0,825.1 L439.8,829.3 L439.8,833.4 L440.0,837.4 L440.2,841.1 L440.7,844.7 L441.3,848.2 L442.0,851.4 L442.9,854.4 L444.0,857.3 L445.2,860.0 L446.6,862.5 L448.0,864.9 L449.7,867.0 L451.5,869.0 L453.4,870.7 L455.4,872.3 L457.6,873.8 L460.0,875.0 L462.4,876.1 L465.0,876.9 L467.7,877.6 L470.5,878.2 L473.4,878.5 L476.4,878.7 L479.5,878.6 L482.7,878.4 L486.0,878.1 L489.3,877.5 L492.8,876.8 L496.3,875.9 L499.8,874.8 L503.4,873.5 L507.0,872.1 L510.6,870.4 L514.3,868.6 L518.0,866.6 L521.6,864.5 L525.2,862.1 L528.8,859.6 L532.4,856.8 L535.9,853.9 L539.3,850.8 L542.7,847.6 L546.0,844.1 L549.1,840.5 L552.2,836.7 L555.1,832.7 L557.9,828.6 L560.6,824.3 L563.1,819.9 L565.4,815.3 L567.6,810.5 L569.5,805.7 L571.3,800.7 L572.9,795.6 L574.2,790.4 L575.4,785.1 L576.3,779.7 L577.0,774.3 L577.5,768.9 L577.7,763.4 L577.7,757.9 L577.5,752.4 L577.1,747.0 L576.4,741.6 L575.5,736.3 L574.4,731.1 L573.1,726.0 L571.6,721.1 L569.8,716.3 L567.9,711.7 L565.8,707.4Z" fill="#000" fill-opacity="0.1" stroke="#000" stroke-opacity="0.3" stroke-width="1" stroke-dasharray="1.5,1.5"/>
<path d="M503.8,528.2 L501.6,522.1 L499.2,516.5 L496.7,511.3 L494.0,506.6 L491.3,502.5 L488.5,498.8 L485.5,495.8 L482.5,493.3 L479.4,491.4 L476.3,490.1 L473.1,489.4 L469.9,489.4 L466.6,490.0 L463.3,491.1 L460.1,492.9 L456.8,495.3 L453.6,498.3 L450.3,501.8 L447.1,505.9 L444.0,510.5 L440.9,515.5 L437.8,521.1 L434.8,527.1 L431.9,533.5 L429.1,540.2 L426.3,547.3 L423.6,554.7 L421.0,562.3 L418.5,570.2 L416.2,578.3 L413.9,586.5 L411.7,594.8 L409.7,603.2 L407.7,611.7 L405.9,620.2 L404.2,628.6 L402.6,637.1 L401.2,645.4 L399.9,653.7 L398.7,661.8 L397.6,669.9 L396.7,677.7 L395.9,685.4 L395.2,692.9 L394.7,700.2 L394.3,707.2 L394.0,714.1 L393.9,720.7 L393.9,727.0 L394.1,733.1 L394.3,738.9 L394.8,744.5 L395.3,749.8 L396.0,754.8 L396.8,759.5 L397.8,764.0 L398.9,768.2 L400.1,772.1 L401.4,775.7 L402.9,779.0 L404.5,782.1 L406.2,784.9 L408.1,787.4 L410.0,789.6 L412.1,791.5 L414.3,793.2 L416.6,794.6 L419.0,795.7 L421.5,796.5 L424.1,797.1 L426.8,797.4 L429.5,797.4 L432.4,797.2 L435.3,796.7 L438.3,795.9 L441.4,794.8 L444.5,793.5 L447.7,791.8 L450.9,789.9 L454.1,787.8 L457.4,785.3 L460.6,782.6 L463.9,779.6 L467.2,776.3 L470.4,772.7 L473.6,768.9 L476.8,764.8 L480.0,760.4 L483.0,755.7 L486.0,750.7 L489.0,745.5 L491.8,739.9 L494.5,734.2 L497.1,728.1 L499.6,721.8 L502.0,715.3 L504.2,708.5 L506.3,701.4 L508.2,694.2 L509.9,686.7 L511.5,679.1 L512.9,671.3 L514.1,663.3 L515.1,655.1 L515.9,646.9 L516.5,638.5 L516.8,630.1 L517.0,621.6 L517.0,613.2 L516.8,604.7 L516.4,596.3 L515.7,587.9 L514.9,579.7 L513.9,571.6 L512.6,563.7 L511.2,556.0 L509.6,548.6 L507.9,541.4 L505.9,534.6Z" fill="#000" fill-opacity="0.1" stroke="#000" stroke-opacity="0.3" stroke-width="1" stroke-dasharray="1.5,1.5"/>
<path d="M459.9,501.7 L457.7,495.3 L455.5,489.3 L453.1,483.7 L450.7,478.7 L448.1,474.1 L445.5,470.1 L442.8,466.7 L440.0,463.8 L437.1,461.6 L434.3,459.9 L431.3,458.9 L428.4,458.5 L425.4,458.7 L422.5,459.6 L419.5,461.0 L416.5,463.1 L413.6,465.8 L410.7,469.1 L407.8,473.0 L405.0,477.4 L402.2,482.3 L399.5,487.7 L396.8,493.5 L394.2,499.8 L391.7,506.5 L389.2,513.6 L386.8,521.0 L384.6,528.7 L382.4,536.6 L380.3,544.8 L378.3,553.1 L376.4,561.6 L374.6,570.2 L372.9,578.8 L371.3,587.6 L369.8,596.3 L368.5,605.0 L367.3,613.6 L366.1,622.2 L365.1,630.7 L364.2,639.0 L363.5,647.3 L362.8,655.3 L362.3,663.2 L361.9,670.8 L361.6,678.3 L361.4,685.5 L361.4,692.5 L361.5,699.2 L361.7,705.7 L362.0,711.9 L362.4,717.9 L363.0,723.5 L363.7,728.9 L364.5,734.0 L365.4,738.8 L366.4,743.3 L367.6,747.6 L368.9,751.5 L370.2,755.2 L371.7,758.5 L373.4,761.6 L375.1,764.4 L376.9,766.8 L378.8,769.0 L380.8,770.9 L383.0,772.6 L385.2,773.9 L387.5,774.9 L389.9,775.7 L392.4,776.2 L394.9,776.3 L397.5,776.2 L400.2,775.9 L403.0,775.2 L405.8,774.2 L408.6,773.0 L411.5,771.4 L414.4,769.6 L417.4,767.5 L420.3,765.1 L423.3,762.4 L426.3,759.4 L429.2,756.1 L432.2,752.6 L435.1,748.7 L437.9,744.6 L440.8,740.1 L443.5,735.4 L446.2,730.4 L448.9,725.1 L451.4,719.5 L453.8,713.6 L456.1,707.5 L458.4,701.1 L460.4,694.4 L462.4,687.5 L464.2,680.3 L465.9,673.0 L467.4,665.3 L468.7,657.5 L469.9,649.5 L470.8,641.4 L471.7,633.1 L472.3,624.6 L472.7,616.0 L473.0,607.4 L473.1,598.7 L472.9,590.0 L472.6,581.3 L472.1,572.6 L471.5,564.0 L470.6,555.5 L469.5,547.1 L468.3,538.9 L466.9,530.9 L465.4,523.1 L463.7,515.7 L461.9,508.5Z" fill="#000" fill-opacity="0.1" stroke="#000" stroke-opacity="0.3" stroke-width="1" stroke-dasharray="1.5,1.5"/>
<path d="M578.8,580.4 L576.5,575.5 L574.0,571.0 L571.3,566.9 L568.5,563.3 L565.5,560.2 L562.4,557.6 L559.2,555.6 L555.9,554.1 L552.4,553.1 L548.9,552.7 L545.3,552.9 L541.7,553.6 L538.0,554.9 L534.3,556.7 L530.5,559.1 L526.7,562.0 L523.0,565.4 L519.2,569.3 L515.5,573.6 L511.8,578.4 L508.1,583.6 L504.5,589.1 L500.9,595.1 L497.4,601.3 L494.0,607.8 L490.7,614.6 L487.4,621.6 L484.3,628.8 L481.2,636.1 L478.3,643.6 L475.5,651.1 L472.8,658.7 L470.2,666.4 L467.8,674.0 L465.5,681.7 L463.3,689.2 L461.3,696.7 L459.4,704.1 L457.6,711.4 L456.0,718.6 L454.6,725.6 L453.3,732.4 L452.1,739.1 L451.1,745.5 L450.3,751.8 L449.6,757.8 L449.1,763.6 L448.7,769.2 L448.5,774.6 L448.5,779.7 L448.6,784.6 L448.9,789.2 L449.3,793.6 L449.9,797.7 L450.6,801.6 L451.5,805.2 L452.6,808.6 L453.8,811.7 L455.1,814.6 L456.6,817.2 L458.3,819.6 L460.1,821.7 L462.1,823.6 L464.2,825.2 L466.4,826.6 L468.7,827.8 L471.2,828.7 L473.9,829.3 L476.6,829.7 L479.5,829.9 L482.5,829.8 L485.5,829.5 L488.7,829.0 L492.0,828.2 L495.4,827.1 L498.8,825.8 L502.3,824.3 L505.9,822.5 L509.6,820.5 L513.3,818.2 L517.0,815.7 L520.7,812.9 L524.5,809.9 L528.3,806.6 L532.0,803.1 L535.8,799.3 L539.5,795.3 L543.2,791.0 L546.8,786.5 L550.4,781.7 L553.8,776.7 L557.2,771.4 L560.5,765.9 L563.7,760.2 L566.8,754.2 L569.7,748.1 L572.4,741.7 L575.0,735.1 L577.5,728.4 L579.7,721.4 L581.8,714.3 L583.7,707.1 L585.3,699.7 L586.8,692.3 L588.0,684.7 L589.0,677.1 L589.8,669.5 L590.3,661.8 L590.6,654.2 L590.7,646.6 L590.5,639.1 L590.1,631.7 L589.5,624.5 L588.6,617.4 L587.5,610.5 L586.2,603.9 L584.7,597.5 L582.9,591.5 L581.0,585.8Z" fill="#000" fill-opacity="0.1" stroke="#000" stroke-opacity="0.3" stroke-width="1" stroke-dasharray="1.5,1.5"/>
<path d="M609.7,578.5 L607.1,573.0 L604.3,567.9 L601.3,563.3 L598.1,559.1 L594.8,555.5 L591.3,552.3 L587.8,549.8 L584.1,547.8 L580.3,546.3 L576.5,545.5 L572.6,545.2 L568.6,545.6 L564.6,546.5 L560.6,548.0 L556.5,550.1 L552.4,552.8 L548.4,556.0 L544.3,559.8 L540.3,564.0 L536.4,568.7 L532.4,573.9 L528.6,579.5 L524.8,585.5 L521.1,591.8 L517.5,598.5 L514.0,605.4 L510.5,612.6 L507.2,620.0 L504.0,627.6 L501.0,635.4 L498.0,643.2 L495.2,651.2 L492.5,659.2 L490.0,667.2 L487.6,675.1 L485.4,683.1 L483.3,691.0 L481.4,698.8 L479.6,706.5 L478.0,714.0 L476.5,721.4 L475.3,728.6 L474.1,735.7 L473.2,742.5 L472.4,749.1 L471.8,755.6 L471.4,761.7 L471.1,767.7 L471.0,773.4 L471.1,778.8 L471.3,784.1 L471.7,789.0 L472.3,793.7 L473.1,798.1 L474.0,802.3 L475.1,806.2 L476.3,809.9 L477.7,813.2 L479.3,816.4 L481.1,819.3 L483.0,821.9 L485.0,824.2 L487.2,826.3 L489.6,828.2 L492.1,829.8 L494.8,831.1 L497.5,832.2 L500.5,833.1 L503.5,833.7 L506.7,834.0 L510.0,834.1 L513.4,834.0 L516.9,833.6 L520.5,833.0 L524.2,832.1 L528.0,830.9 L531.8,829.5 L535.7,827.9 L539.7,826.0 L543.7,823.9 L547.7,821.5 L551.8,818.8 L555.8,815.9 L559.9,812.7 L563.9,809.3 L568.0,805.6 L571.9,801.6 L575.9,797.4 L579.7,792.9 L583.5,788.2 L587.2,783.2 L590.8,778.0 L594.2,772.5 L597.6,766.7 L600.8,760.7 L603.8,754.5 L606.6,748.1 L609.3,741.4 L611.8,734.5 L614.1,727.5 L616.2,720.2 L618.0,712.8 L619.6,705.2 L621.0,697.5 L622.2,689.7 L623.1,681.8 L623.7,673.8 L624.1,665.9 L624.3,657.9 L624.2,649.9 L623.8,641.9 L623.2,634.1 L622.3,626.4 L621.2,618.8 L619.9,611.4 L618.3,604.3 L616.5,597.4 L614.4,590.7 L612.2,584.5Z" fill="#000" fill-opacity="0.1" stroke="#000" stroke-opacity="0.3" stroke-width="1" stroke-dasharray="1.5,1.5"/>
<path d="M660.9,783.8 L657.8,780.4 L654.5,777.2 L651.0,774.3 L647.4,771.7 L643.6,769.3 L639.7,767.3 L635.6,765.5 L631.4,764.1 L627.1,763.0 L622.8,762.3 L618.4,761.9 L613.9,761.9 L609.4,762.2 L604.9,762.9 L600.3,763.9 L595.8,765.2 L591.2,766.9 L586.8,768.9 L582.3,771.2 L577.9,773.8 L573.6,776.7 L569.3,779.8 L565.1,783.2 L561.1,786.8 L557.1,790.6 L553.2,794.6 L549.5,798.7 L545.9,803.0 L542.4,807.4 L539.0,811.9 L535.8,816.4 L532.8,821.0 L529.9,825.7 L527.2,830.3 L524.6,835.0 L522.3,839.7 L520.0,844.3 L518.0,848.8 L516.1,853.3 L514.5,857.8 L513.0,862.1 L511.7,866.3 L510.5,870.5 L509.6,874.5 L508.9,878.4 L508.3,882.2 L507.9,885.8 L507.8,889.3 L507.8,892.7 L508.0,895.9 L508.4,899.0 L509.0,901.9 L509.8,904.7 L510.7,907.3 L511.9,909.8 L513.2,912.1 L514.7,914.3 L516.5,916.4 L518.3,918.2 L520.4,920.0 L522.7,921.5 L525.1,923.0 L527.7,924.3 L530.4,925.4 L533.3,926.4 L536.4,927.3 L539.6,928.0 L543.0,928.6 L546.5,929.0 L550.1,929.3 L553.9,929.4 L557.8,929.4 L561.7,929.3 L565.8,929.0 L570.0,928.6 L574.3,928.1 L578.6,927.4 L583.1,926.6 L587.5,925.6 L592.0,924.5 L596.5,923.2 L601.1,921.8 L605.6,920.2 L610.2,918.5 L614.7,916.7 L619.1,914.7 L623.5,912.5 L627.9,910.2 L632.1,907.8 L636.3,905.2 L640.3,902.4 L644.3,899.5 L648.0,896.5 L651.6,893.3 L655.1,889.9 L658.4,886.4 L661.4,882.8 L664.3,879.1 L666.9,875.2 L669.3,871.2 L671.4,867.1 L673.4,862.8 L675.0,858.5 L676.4,854.1 L677.5,849.6 L678.3,845.1 L678.8,840.4 L679.1,835.8 L679.1,831.1 L678.8,826.5 L678.2,821.8 L677.3,817.2 L676.2,812.6 L674.7,808.1 L673.0,803.7 L671.1,799.4 L668.9,795.3 L666.5,791.3 L663.8,787.4Z" fill="#000" fill-opacity="0.1" stroke="#000" stroke-opacity="0.3" stroke-width="1" stroke-dasharray="1.5,1.5"/>
<path d="M630.7,798.4 L627.2,795.4 L623.5,792.7 L619.6,790.2 L615.5,788.0 L611.2,786.0 L606.8,784.4 L602.1,783.0 L597.4,782.0 L592.5,781.3 L587.5,780.9 L582.5,780.8 L577.4,781.1 L572.2,781.7 L567.0,782.6 L561.8,783.8 L556.7,785.3 L551.5,787.2 L546.3,789.3 L541.3,791.7 L536.2,794.3 L531.3,797.2 L526.4,800.3 L521.7,803.7 L517.0,807.2 L512.5,810.8 L508.1,814.7 L503.8,818.6 L499.7,822.7 L495.7,826.9 L491.9,831.1 L488.2,835.4 L484.7,839.7 L481.4,844.1 L478.3,848.4 L475.4,852.7 L472.6,857.0 L470.0,861.3 L467.7,865.5 L465.5,869.6 L463.5,873.6 L461.7,877.6 L460.1,881.5 L458.7,885.2 L457.6,888.9 L456.6,892.4 L455.8,895.8 L455.2,899.1 L454.8,902.2 L454.7,905.3 L454.7,908.1 L455.0,910.9 L455.4,913.5 L456.1,915.9 L456.9,918.3 L458.0,920.5 L459.2,922.5 L460.7,924.4 L462.4,926.2 L464.2,927.8 L466.3,929.3 L468.6,930.6 L471.0,931.8 L473.6,932.9 L476.5,933.9 L479.5,934.7 L482.7,935.4 L486.1,935.9 L489.6,936.3 L493.3,936.6 L497.2,936.8 L501.2,936.8 L505.4,936.7 L509.7,936.5 L514.2,936.1 L518.8,935.6 L523.5,935.0 L528.3,934.2 L533.2,933.3 L538.2,932.3 L543.2,931.1 L548.3,929.8 L553.5,928.4 L558.6,926.8 L563.8,925.1 L569.0,923.2 L574.2,921.3 L579.4,919.1 L584.4,916.9 L589.5,914.4 L594.4,911.9 L599.2,909.2 L603.9,906.4 L608.5,903.4 L612.9,900.3 L617.1,897.1 L621.2,893.7 L625.0,890.2 L628.6,886.6 L631.9,882.9 L635.0,879.1 L637.8,875.2 L640.3,871.2 L642.6,867.1 L644.5,862.9 L646.1,858.7 L647.4,854.4 L648.3,850.1 L648.9,845.7 L649.2,841.4 L649.1,837.0 L648.7,832.7 L648.0,828.5 L646.9,824.3 L645.5,820.2 L643.8,816.2 L641.7,812.3 L639.4,808.6 L636.8,805.0 L633.8,801.6Z" fill="#000" fill-opacity="0.1" stroke="#000" stroke-opacity="0.3" stroke-width="1" stroke-dasharray="1.5,1.5"/>
<path d="M535.6,796.7 L533.3,793.4 L530.8,790.4 L528.2,787.6 L525.5,785.1 L522.6,782.9 L519.7,780.9 L516.6,779.3 L513.5,777.9 L510.3,776.9 L507.0,776.2 L503.7,775.9 L500.4,775.8 L497.0,776.1 L493.6,776.8 L490.2,777.7 L486.8,779.0 L483.4,780.6 L480.0,782.5 L476.6,784.7 L473.3,787.2 L470.1,789.9 L466.9,792.9 L463.8,796.1 L460.7,799.5 L457.7,803.1 L454.8,806.9 L452.0,810.8 L449.3,814.9 L446.7,819.0 L444.2,823.3 L441.8,827.6 L439.5,832.0 L437.4,836.4 L435.3,840.9 L433.4,845.3 L431.6,849.7 L429.9,854.1 L428.4,858.4 L427.0,862.7 L425.8,866.9 L424.6,871.0 L423.7,875.1 L422.8,879.0 L422.1,882.8 L421.6,886.5 L421.1,890.1 L420.9,893.6 L420.7,896.9 L420.7,900.1 L420.9,903.2 L421.2,906.1 L421.6,908.9 L422.2,911.5 L423.0,914.0 L423.8,916.4 L424.8,918.6 L426.0,920.6 L427.2,922.6 L428.7,924.3 L430.2,926.0 L431.9,927.5 L433.7,928.9 L435.7,930.1 L437.7,931.2 L439.9,932.1 L442.2,932.9 L444.6,933.6 L447.1,934.2 L449.8,934.6 L452.5,934.8 L455.3,935.0 L458.2,935.0 L461.2,934.9 L464.3,934.6 L467.4,934.2 L470.6,933.7 L473.9,933.1 L477.2,932.3 L480.6,931.3 L483.9,930.3 L487.3,929.1 L490.7,927.7 L494.2,926.3 L497.6,924.6 L500.9,922.9 L504.3,921.0 L507.6,918.9 L510.8,916.7 L514.0,914.4 L517.2,911.9 L520.2,909.3 L523.1,906.6 L526.0,903.7 L528.7,900.6 L531.3,897.5 L533.7,894.2 L536.0,890.7 L538.1,887.1 L540.1,883.5 L541.9,879.7 L543.5,875.7 L545.0,871.7 L546.2,867.6 L547.2,863.4 L548.1,859.2 L548.7,854.8 L549.1,850.5 L549.3,846.0 L549.3,841.6 L549.0,837.2 L548.6,832.8 L547.9,828.4 L547.1,824.0 L546.0,819.8 L544.7,815.6 L543.3,811.5 L541.6,807.5 L539.8,803.7 L537.8,800.1Z" fill="#000" fill-opacity="0.1" stroke="#000" stroke-opacity="0.3" stroke-width="1" stroke-dasharray="1.5,1.5"/>
<path d="M488.7,813.3 L486.7,810.3 L484.5,807.5 L482.2,804.9 L479.8,802.5 L477.4,800.4 L474.8,798.6 L472.1,797.1 L469.4,795.8 L466.5,794.9 L463.7,794.3 L460.8,793.9 L457.8,793.9 L454.9,794.2 L451.9,794.8 L448.9,795.7 L445.9,796.9 L443.0,798.3 L440.0,800.1 L437.1,802.2 L434.2,804.5 L431.4,807.0 L428.6,809.8 L425.8,812.8 L423.1,815.9 L420.5,819.3 L418.0,822.8 L415.5,826.5 L413.2,830.3 L410.9,834.1 L408.7,838.1 L406.6,842.2 L404.6,846.2 L402.7,850.3 L400.9,854.5 L399.2,858.6 L397.7,862.7 L396.2,866.8 L394.9,870.8 L393.6,874.8 L392.5,878.7 L391.6,882.6 L390.7,886.3 L390.0,890.0 L389.4,893.6 L388.9,897.0 L388.5,900.4 L388.3,903.6 L388.1,906.7 L388.2,909.7 L388.3,912.5 L388.6,915.3 L388.9,917.8 L389.5,920.3 L390.1,922.6 L390.8,924.8 L391.7,926.9 L392.7,928.8 L393.8,930.6 L395.1,932.3 L396.4,933.8 L397.9,935.2 L399.5,936.5 L401.2,937.6 L403.0,938.6 L404.9,939.5 L406.9,940.3 L409.0,940.9 L411.3,941.4 L413.6,941.8 L415.9,942.1 L418.4,942.2 L421.0,942.2 L423.6,942.1 L426.3,941.8 L429.0,941.5 L431.8,941.0 L434.7,940.4 L437.6,939.7 L440.5,938.8 L443.5,937.8 L446.4,936.7 L449.4,935.4 L452.4,934.1 L455.4,932.5 L458.3,930.9 L461.3,929.1 L464.2,927.2 L467.0,925.2 L469.8,923.0 L472.6,920.7 L475.2,918.3 L477.8,915.7 L480.3,913.0 L482.6,910.2 L484.9,907.2 L487.0,904.1 L489.0,900.9 L490.9,897.6 L492.6,894.2 L494.2,890.6 L495.6,887.0 L496.9,883.2 L498.0,879.4 L498.9,875.5 L499.6,871.5 L500.1,867.5 L500.5,863.4 L500.7,859.3 L500.6,855.2 L500.4,851.1 L500.1,846.9 L499.5,842.8 L498.7,838.8 L497.8,834.8 L496.7,830.9 L495.4,827.1 L494.0,823.4 L492.4,819.9 L490.6,816.5Z" fill="#000" fill-opacity="0.1" stroke="#000" stroke-opacity="0.3" stroke-width="1" stroke-dasharray="1.5,1.5"/>
<path d="M451.0,859.6 L449.2,857.1 L447.3,854.9 L445.3,852.8 L443.1,851.0 L440.9,849.3 L438.6,847.9 L436.3,846.6 L433.9,845.7 L431.4,844.9 L428.8,844.4 L426.3,844.1 L423.7,844.1 L421.0,844.3 L418.4,844.8 L415.8,845.5 L413.1,846.5 L410.5,847.6 L407.9,849.1 L405.3,850.7 L402.7,852.5 L400.2,854.5 L397.7,856.8 L395.3,859.1 L392.9,861.7 L390.6,864.3 L388.4,867.1 L386.2,870.1 L384.1,873.1 L382.1,876.2 L380.1,879.3 L378.3,882.5 L376.5,885.8 L374.8,889.1 L373.2,892.4 L371.8,895.6 L370.4,898.9 L369.1,902.2 L367.9,905.4 L366.8,908.6 L365.8,911.7 L365.0,914.7 L364.2,917.7 L363.6,920.6 L363.0,923.5 L362.6,926.2 L362.3,928.9 L362.0,931.5 L361.9,933.9 L362.0,936.3 L362.1,938.6 L362.3,940.8 L362.6,942.8 L363.1,944.8 L363.7,946.6 L364.3,948.4 L365.1,950.0 L366.0,951.6 L367.0,953.0 L368.1,954.3 L369.3,955.5 L370.6,956.6 L372.0,957.7 L373.5,958.6 L375.1,959.4 L376.8,960.1 L378.6,960.7 L380.5,961.2 L382.4,961.6 L384.4,961.9 L386.6,962.1 L388.8,962.2 L391.0,962.2 L393.3,962.1 L395.7,961.9 L398.2,961.6 L400.6,961.3 L403.2,960.8 L405.7,960.2 L408.3,959.5 L410.9,958.7 L413.6,957.8 L416.2,956.8 L418.9,955.7 L421.5,954.5 L424.1,953.2 L426.7,951.8 L429.3,950.3 L431.8,948.7 L434.3,946.9 L436.7,945.1 L439.0,943.2 L441.3,941.1 L443.5,939.0 L445.6,936.7 L447.6,934.4 L449.5,931.9 L451.3,929.3 L453.0,926.7 L454.5,924.0 L455.9,921.1 L457.1,918.2 L458.2,915.3 L459.2,912.2 L460.0,909.1 L460.6,905.9 L461.1,902.7 L461.4,899.5 L461.6,896.2 L461.6,892.9 L461.4,889.6 L461.0,886.3 L460.5,883.1 L459.9,879.9 L459.0,876.7 L458.1,873.6 L456.9,870.6 L455.6,867.6 L454.2,864.8 L452.7,862.1Z" fill="#000" fill-opacity="0.1" stroke="#000" stroke-opacity="0.3" stroke-width="1" stroke-dasharray="1.5,1.5"/>
<path d="M423.0,806.3 L421.3,803.2 L419.6,800.3 L417.8,797.6 L415.9,795.2 L413.9,793.0 L411.8,791.2 L409.6,789.6 L407.5,788.3 L405.2,787.3 L402.9,786.7 L400.6,786.3 L398.2,786.3 L395.9,786.6 L393.5,787.2 L391.1,788.1 L388.7,789.3 L386.3,790.9 L384.0,792.7 L381.6,794.8 L379.3,797.2 L377.0,799.8 L374.8,802.7 L372.6,805.7 L370.5,809.0 L368.4,812.5 L366.3,816.1 L364.4,819.9 L362.5,823.8 L360.6,827.8 L358.9,831.9 L357.2,836.0 L355.6,840.2 L354.1,844.5 L352.7,848.7 L351.3,853.0 L350.1,857.2 L348.9,861.4 L347.8,865.6 L346.9,869.7 L346.0,873.8 L345.2,877.7 L344.5,881.6 L343.9,885.4 L343.4,889.0 L343.0,892.6 L342.7,896.1 L342.6,899.4 L342.5,902.6 L342.5,905.7 L342.6,908.6 L342.8,911.4 L343.1,914.1 L343.5,916.6 L344.0,919.0 L344.6,921.3 L345.3,923.4 L346.1,925.4 L347.0,927.2 L348.0,928.9 L349.1,930.5 L350.3,932.0 L351.6,933.3 L352.9,934.4 L354.4,935.5 L355.9,936.4 L357.5,937.2 L359.2,937.8 L361.0,938.4 L362.8,938.8 L364.7,939.0 L366.7,939.2 L368.7,939.2 L370.8,939.1 L373.0,938.8 L375.2,938.4 L377.4,937.9 L379.7,937.3 L382.0,936.5 L384.4,935.7 L386.7,934.6 L389.1,933.5 L391.5,932.2 L393.9,930.8 L396.3,929.2 L398.6,927.5 L401.0,925.7 L403.3,923.7 L405.6,921.6 L407.8,919.4 L410.0,917.0 L412.1,914.5 L414.2,911.9 L416.2,909.1 L418.1,906.2 L419.9,903.1 L421.6,899.9 L423.2,896.6 L424.7,893.2 L426.1,889.7 L427.4,886.0 L428.5,882.2 L429.5,878.4 L430.4,874.4 L431.1,870.4 L431.7,866.3 L432.1,862.2 L432.4,858.0 L432.5,853.7 L432.5,849.5 L432.3,845.2 L432.0,841.0 L431.6,836.8 L431.0,832.6 L430.2,828.5 L429.3,824.5 L428.3,820.5 L427.2,816.7 L425.9,813.1 L424.5,809.6Z" fill="#000" fill-opacity="0.1" stroke="#000" stroke-opacity="0.3" stroke-width="1" stroke-dasharray="1.5,1.5"/>
<path d="M418.8,804.1 L417.2,801.0 L415.5,798.0 L413.7,795.3 L411.8,792.9 L409.9,790.7 L407.8,788.8 L405.7,787.2 L403.6,785.9 L401.4,785.0 L399.1,784.3 L396.8,783.9 L394.5,783.9 L392.2,784.2 L389.8,784.8 L387.5,785.8 L385.1,787.0 L382.8,788.5 L380.5,790.4 L378.2,792.5 L375.9,794.9 L373.6,797.6 L371.4,800.4 L369.3,803.5 L367.2,806.9 L365.1,810.4 L363.1,814.0 L361.2,817.8 L359.3,821.8 L357.5,825.8 L355.8,829.9 L354.1,834.1 L352.5,838.4 L351.1,842.7 L349.6,847.0 L348.3,851.2 L347.1,855.5 L345.9,859.8 L344.9,864.0 L343.9,868.1 L343.1,872.2 L342.3,876.2 L341.6,880.1 L341.0,883.9 L340.5,887.6 L340.2,891.2 L339.9,894.7 L339.7,898.1 L339.6,901.3 L339.6,904.4 L339.7,907.4 L339.9,910.2 L340.2,912.9 L340.6,915.4 L341.1,917.9 L341.7,920.1 L342.4,922.3 L343.2,924.3 L344.1,926.2 L345.1,927.9 L346.1,929.5 L347.3,930.9 L348.5,932.3 L349.9,933.4 L351.3,934.5 L352.8,935.4 L354.4,936.2 L356.1,936.9 L357.8,937.4 L359.6,937.8 L361.5,938.1 L363.4,938.2 L365.5,938.2 L367.5,938.1 L369.6,937.9 L371.8,937.5 L374.0,937.0 L376.3,936.3 L378.5,935.6 L380.9,934.7 L383.2,933.6 L385.5,932.5 L387.9,931.2 L390.2,929.7 L392.6,928.2 L394.9,926.5 L397.2,924.6 L399.5,922.6 L401.7,920.5 L403.9,918.3 L406.1,915.9 L408.2,913.3 L410.2,910.7 L412.2,907.9 L414.0,904.9 L415.8,901.8 L417.5,898.6 L419.1,895.3 L420.6,891.8 L421.9,888.3 L423.2,884.6 L424.3,880.8 L425.3,876.9 L426.1,872.9 L426.8,868.8 L427.4,864.7 L427.8,860.5 L428.1,856.3 L428.2,852.0 L428.2,847.7 L428.1,843.4 L427.8,839.1 L427.3,834.8 L426.7,830.6 L426.0,826.5 L425.1,822.4 L424.1,818.5 L423.0,814.7 L421.7,811.0 L420.3,807.4Z" fill="#000" fill-opacity="0.1" stroke="#000" stroke-opacity="0.3" stroke-width="1" stroke-dasharray="1.5,1.5"/>
<path d="M400.3,818.0 L398.8,815.0 L397.3,812.3 L395.6,809.7 L393.8,807.4 L392.0,805.4 L390.1,803.6 L388.2,802.1 L386.2,800.9 L384.1,799.9 L382.0,799.3 L379.9,799.0 L377.7,799.0 L375.6,799.2 L373.4,799.8 L371.2,800.7 L369.0,801.9 L366.8,803.3 L364.7,805.1 L362.6,807.1 L360.4,809.3 L358.4,811.8 L356.3,814.5 L354.3,817.4 L352.3,820.6 L350.4,823.8 L348.6,827.3 L346.8,830.9 L345.0,834.6 L343.4,838.4 L341.8,842.3 L340.2,846.2 L338.8,850.2 L337.4,854.3 L336.1,858.3 L334.8,862.3 L333.7,866.4 L332.6,870.4 L331.7,874.3 L330.8,878.2 L330.0,882.1 L329.2,885.8 L328.6,889.5 L328.1,893.1 L327.6,896.6 L327.3,900.0 L327.0,903.3 L326.8,906.4 L326.7,909.5 L326.7,912.4 L326.8,915.2 L327.0,917.8 L327.3,920.4 L327.7,922.8 L328.2,925.1 L328.7,927.2 L329.4,929.2 L330.1,931.1 L330.9,932.9 L331.8,934.5 L332.8,936.0 L333.9,937.4 L335.1,938.6 L336.3,939.7 L337.6,940.7 L339.0,941.6 L340.5,942.3 L342.0,943.0 L343.6,943.4 L345.3,943.8 L347.1,944.1 L348.9,944.2 L350.8,944.2 L352.7,944.1 L354.6,943.9 L356.7,943.5 L358.7,943.0 L360.8,942.4 L362.9,941.7 L365.1,940.9 L367.2,939.9 L369.4,938.8 L371.6,937.6 L373.8,936.2 L375.9,934.8 L378.1,933.2 L380.2,931.4 L382.4,929.6 L384.5,927.6 L386.5,925.4 L388.5,923.2 L390.4,920.8 L392.3,918.3 L394.1,915.6 L395.9,912.9 L397.5,910.0 L399.1,906.9 L400.6,903.8 L401.9,900.5 L403.2,897.2 L404.4,893.7 L405.4,890.1 L406.3,886.5 L407.1,882.7 L407.8,878.9 L408.3,875.0 L408.7,871.1 L408.9,867.1 L409.1,863.0 L409.1,859.0 L408.9,854.9 L408.6,850.9 L408.2,846.9 L407.6,842.9 L407.0,839.0 L406.2,835.2 L405.2,831.5 L404.2,827.9 L403.0,824.4 L401.7,821.1Z" fill="#000" fill-opacity="0.1" stroke="#000" stroke-opacity="0.3" stroke-width="1" stroke-dasharray="1.5,1.5"/>
<path d="M443.0,805.6 L441.2,802.4 L439.4,799.5 L437.4,796.9 L435.3,794.4 L433.2,792.3 L431.0,790.4 L428.7,788.8 L426.3,787.5 L423.9,786.5 L421.4,785.9 L418.9,785.5 L416.4,785.5 L413.8,785.8 L411.3,786.4 L408.7,787.3 L406.1,788.6 L403.6,790.1 L401.0,791.9 L398.5,794.0 L396.0,796.4 L393.6,799.1 L391.2,801.9 L388.8,805.0 L386.5,808.3 L384.3,811.8 L382.1,815.4 L380.0,819.2 L377.9,823.1 L376.0,827.1 L374.1,831.2 L372.3,835.4 L370.5,839.6 L368.9,843.9 L367.4,848.1 L365.9,852.4 L364.6,856.7 L363.3,860.9 L362.2,865.1 L361.1,869.2 L360.2,873.2 L359.3,877.2 L358.6,881.1 L357.9,884.9 L357.4,888.6 L357.0,892.1 L356.7,895.6 L356.5,898.9 L356.4,902.1 L356.4,905.2 L356.5,908.2 L356.7,911.0 L357.1,913.7 L357.5,916.2 L358.0,918.6 L358.7,920.9 L359.5,923.0 L360.3,925.0 L361.3,926.9 L362.4,928.6 L363.5,930.2 L364.8,931.6 L366.2,932.9 L367.6,934.1 L369.2,935.2 L370.8,936.1 L372.6,936.9 L374.4,937.5 L376.3,938.0 L378.3,938.4 L380.3,938.7 L382.4,938.8 L384.6,938.9 L386.9,938.7 L389.2,938.5 L391.6,938.1 L394.0,937.6 L396.5,937.0 L399.0,936.2 L401.5,935.3 L404.0,934.3 L406.6,933.1 L409.2,931.9 L411.7,930.4 L414.3,928.9 L416.8,927.2 L419.4,925.3 L421.9,923.4 L424.3,921.3 L426.7,919.0 L429.1,916.6 L431.4,914.1 L433.6,911.5 L435.7,908.7 L437.8,905.7 L439.7,902.7 L441.5,899.5 L443.3,896.2 L444.9,892.7 L446.4,889.2 L447.7,885.5 L448.9,881.8 L450.0,877.9 L451.0,873.9 L451.7,869.9 L452.4,865.8 L452.8,861.6 L453.1,857.4 L453.3,853.1 L453.3,848.9 L453.1,844.6 L452.8,840.3 L452.3,836.1 L451.6,831.9 L450.8,827.8 L449.9,823.8 L448.8,819.9 L447.5,816.0 L446.1,812.4 L444.6,808.9Z" fill="#000" fill-opacity="0.1" stroke="#000" stroke-opacity="0.3" stroke-width="1" stroke-dasharray="1.5,1.5"/>
<path d="M449.5,869.8 L447.7,867.5 L445.8,865.4 L443.8,863.4 L441.7,861.7 L439.5,860.1 L437.2,858.7 L434.8,857.6 L432.4,856.7 L429.9,855.9 L427.4,855.5 L424.9,855.2 L422.3,855.2 L419.7,855.4 L417.0,855.8 L414.4,856.5 L411.8,857.4 L409.2,858.5 L406.6,859.9 L404.0,861.4 L401.5,863.1 L398.9,865.0 L396.5,867.1 L394.1,869.4 L391.7,871.8 L389.4,874.3 L387.2,876.9 L385.0,879.7 L382.9,882.5 L380.9,885.4 L379.0,888.4 L377.1,891.5 L375.4,894.5 L373.7,897.6 L372.1,900.7 L370.6,903.8 L369.3,906.9 L368.0,910.0 L366.8,913.0 L365.7,916.0 L364.8,919.0 L363.9,921.8 L363.1,924.7 L362.5,927.4 L361.9,930.1 L361.5,932.7 L361.2,935.2 L361.0,937.6 L360.9,940.0 L360.9,942.2 L361.0,944.3 L361.2,946.4 L361.6,948.3 L362.0,950.2 L362.6,951.9 L363.3,953.6 L364.0,955.1 L364.9,956.6 L365.9,957.9 L367.0,959.2 L368.2,960.3 L369.5,961.4 L370.9,962.3 L372.4,963.2 L374.0,963.9 L375.7,964.6 L377.4,965.2 L379.3,965.7 L381.2,966.0 L383.3,966.3 L385.4,966.5 L387.5,966.6 L389.8,966.6 L392.1,966.5 L394.5,966.4 L396.9,966.1 L399.4,965.7 L401.9,965.3 L404.4,964.7 L407.0,964.1 L409.6,963.3 L412.2,962.5 L414.9,961.5 L417.5,960.5 L420.1,959.4 L422.7,958.1 L425.3,956.8 L427.9,955.4 L430.4,953.9 L432.8,952.2 L435.2,950.5 L437.6,948.7 L439.8,946.7 L442.0,944.7 L444.1,942.6 L446.1,940.3 L448.0,938.0 L449.8,935.6 L451.4,933.1 L452.9,930.5 L454.3,927.9 L455.6,925.1 L456.7,922.3 L457.6,919.4 L458.4,916.5 L459.1,913.5 L459.5,910.5 L459.8,907.4 L460.0,904.3 L460.0,901.2 L459.8,898.1 L459.5,895.0 L459.0,892.0 L458.3,888.9 L457.5,885.9 L456.5,883.0 L455.4,880.2 L454.1,877.4 L452.7,874.7 L451.1,872.2Z" fill="#000" fill-opacity="0.1" stroke="#000" stroke-opacity="0.3" stroke-width="1" stroke-dasharray="1.5,1.5"/>
<path d="M451.6,884.1 L449.8,881.9 L447.8,879.9 L445.7,878.1 L443.6,876.4 L441.3,874.9 L439.0,873.6 L436.6,872.5 L434.1,871.5 L431.6,870.8 L429.1,870.3 L426.5,870.0 L423.9,869.9 L421.2,870.0 L418.6,870.4 L415.9,870.9 L413.3,871.7 L410.6,872.6 L408.0,873.8 L405.4,875.2 L402.9,876.7 L400.4,878.4 L397.9,880.3 L395.5,882.3 L393.1,884.4 L390.8,886.7 L388.6,889.1 L386.4,891.6 L384.3,894.2 L382.3,896.9 L380.4,899.6 L378.6,902.4 L376.8,905.2 L375.2,908.0 L373.6,910.9 L372.1,913.7 L370.8,916.6 L369.5,919.4 L368.4,922.2 L367.3,925.0 L366.4,927.7 L365.5,930.4 L364.8,933.0 L364.2,935.6 L363.7,938.1 L363.3,940.5 L363.0,942.8 L362.8,945.1 L362.8,947.3 L362.8,949.3 L363.0,951.3 L363.2,953.3 L363.6,955.1 L364.1,956.8 L364.7,958.5 L365.4,960.0 L366.2,961.5 L367.2,962.8 L368.2,964.1 L369.3,965.3 L370.6,966.4 L371.9,967.4 L373.4,968.3 L374.9,969.1 L376.5,969.8 L378.3,970.5 L380.1,971.0 L382.0,971.5 L384.0,971.9 L386.1,972.1 L388.2,972.4 L390.4,972.5 L392.7,972.5 L395.1,972.5 L397.5,972.3 L399.9,972.1 L402.4,971.8 L405.0,971.4 L407.6,970.9 L410.2,970.3 L412.8,969.7 L415.5,968.9 L418.1,968.1 L420.8,967.2 L423.4,966.2 L426.0,965.1 L428.6,963.9 L431.2,962.6 L433.7,961.2 L436.2,959.7 L438.6,958.2 L440.9,956.5 L443.2,954.8 L445.4,952.9 L447.4,951.0 L449.4,949.0 L451.3,946.9 L453.0,944.7 L454.7,942.4 L456.2,940.1 L457.5,937.6 L458.7,935.1 L459.8,932.6 L460.7,929.9 L461.4,927.3 L462.0,924.5 L462.5,921.8 L462.7,918.9 L462.8,916.1 L462.7,913.3 L462.5,910.4 L462.1,907.5 L461.6,904.7 L460.8,901.9 L459.9,899.1 L458.9,896.4 L457.7,893.8 L456.4,891.2 L454.9,888.7 L453.3,886.3Z" fill="#000" fill-opacity="0.1" stroke="#000" stroke-opacity="0.3" stroke-width="1" stroke-dasharray="1.5,1.5"/>
<path d="M430.0,795.3 L428.4,792.1 L426.6,789.1 L424.7,786.3 L422.7,783.7 L420.7,781.5 L418.6,779.5 L416.4,777.9 L414.1,776.5 L411.8,775.5 L409.5,774.8 L407.1,774.4 L404.7,774.4 L402.2,774.7 L399.8,775.4 L397.3,776.3 L394.9,777.6 L392.4,779.2 L390.0,781.1 L387.6,783.3 L385.2,785.8 L382.9,788.6 L380.6,791.6 L378.3,794.8 L376.1,798.2 L374.0,801.8 L371.9,805.6 L369.9,809.6 L367.9,813.7 L366.1,817.8 L364.2,822.1 L362.5,826.5 L360.9,830.9 L359.3,835.3 L357.9,839.8 L356.5,844.2 L355.2,848.7 L354.0,853.1 L352.9,857.4 L351.9,861.7 L351.0,866.0 L350.2,870.1 L349.5,874.2 L348.9,878.1 L348.4,882.0 L348.0,885.7 L347.7,889.3 L347.5,892.8 L347.4,896.1 L347.4,899.3 L347.5,902.4 L347.7,905.4 L348.0,908.2 L348.4,910.8 L349.0,913.3 L349.6,915.7 L350.3,917.9 L351.1,920.0 L352.1,921.9 L353.1,923.7 L354.2,925.4 L355.4,926.9 L356.7,928.3 L358.1,929.5 L359.6,930.6 L361.2,931.5 L362.8,932.4 L364.6,933.0 L366.4,933.6 L368.3,934.0 L370.2,934.3 L372.3,934.4 L374.3,934.4 L376.5,934.3 L378.7,934.1 L381.0,933.7 L383.3,933.1 L385.6,932.5 L388.0,931.7 L390.4,930.8 L392.8,929.7 L395.3,928.5 L397.7,927.1 L400.2,925.6 L402.6,924.0 L405.1,922.2 L407.5,920.3 L409.9,918.3 L412.2,916.1 L414.5,913.7 L416.7,911.3 L418.9,908.6 L421.0,905.9 L423.1,902.9 L425.0,899.9 L426.9,896.7 L428.6,893.4 L430.3,889.9 L431.8,886.3 L433.3,882.6 L434.5,878.8 L435.7,874.9 L436.7,870.8 L437.6,866.7 L438.4,862.5 L439.0,858.2 L439.4,853.8 L439.7,849.4 L439.8,845.0 L439.8,840.5 L439.7,836.1 L439.3,831.6 L438.9,827.2 L438.3,822.9 L437.5,818.6 L436.6,814.4 L435.5,810.3 L434.3,806.3 L433.0,802.5 L431.6,798.8Z" fill="#000" fill-opacity="0.1" stroke="#000" stroke-opacity="0.3" stroke-width="1" stroke-dasharray="1.5,1.5"/>
<path d="M389.3,759.9 L387.8,755.9 L386.2,752.1 L384.6,748.6 L382.8,745.4 L381.0,742.5 L379.1,739.9 L377.2,737.7 L375.3,735.8 L373.3,734.3 L371.2,733.1 L369.2,732.4 L367.1,732.0 L365.0,732.0 L362.9,732.4 L360.8,733.2 L358.7,734.4 L356.7,736.0 L354.6,737.9 L352.6,740.2 L350.6,742.8 L348.6,745.8 L346.7,749.0 L344.8,752.6 L342.9,756.4 L341.2,760.4 L339.4,764.7 L337.7,769.2 L336.1,773.8 L334.6,778.6 L333.1,783.5 L331.7,788.5 L330.3,793.6 L329.1,798.7 L327.9,803.9 L326.8,809.1 L325.7,814.3 L324.8,819.5 L323.9,824.6 L323.1,829.7 L322.4,834.7 L321.8,839.6 L321.3,844.4 L320.8,849.1 L320.5,853.7 L320.2,858.2 L320.0,862.5 L319.9,866.7 L319.9,870.7 L320.0,874.6 L320.2,878.3 L320.5,881.8 L320.8,885.2 L321.2,888.5 L321.8,891.5 L322.4,894.4 L323.1,897.1 L323.8,899.7 L324.7,902.1 L325.6,904.3 L326.6,906.4 L327.7,908.3 L328.9,910.0 L330.2,911.6 L331.5,913.0 L332.9,914.2 L334.4,915.3 L335.9,916.2 L337.5,917.0 L339.2,917.6 L340.9,918.1 L342.7,918.4 L344.6,918.5 L346.4,918.5 L348.4,918.3 L350.3,918.0 L352.3,917.5 L354.4,916.9 L356.4,916.1 L358.5,915.2 L360.6,914.1 L362.7,912.8 L364.7,911.4 L366.8,909.8 L368.9,908.0 L371.0,906.1 L373.0,904.0 L375.0,901.8 L377.0,899.4 L378.9,896.8 L380.8,894.1 L382.6,891.2 L384.4,888.1 L386.0,884.8 L387.6,881.4 L389.1,877.8 L390.6,874.1 L391.9,870.2 L393.1,866.2 L394.3,862.0 L395.3,857.6 L396.2,853.2 L396.9,848.6 L397.6,843.8 L398.1,839.0 L398.5,834.1 L398.8,829.1 L398.9,824.0 L398.9,818.9 L398.8,813.7 L398.5,808.5 L398.2,803.3 L397.7,798.1 L397.0,793.0 L396.3,787.9 L395.4,782.9 L394.4,778.0 L393.3,773.2 L392.1,768.6 L390.7,764.2Z" fill="#000" fill-opacity="0.1" stroke="#000" stroke-opacity="0.3" stroke-width="1" stroke-dasharray="1.5,1.5"/>
<path d="M416.9,751.4 L415.4,747.6 L413.7,744.0 L411.9,740.7 L410.0,737.7 L408.1,735.0 L406.1,732.7 L404.0,730.8 L401.8,729.2 L399.7,728.0 L397.4,727.2 L395.2,726.8 L392.9,726.8 L390.6,727.2 L388.2,728.0 L385.9,729.2 L383.6,730.7 L381.2,732.7 L378.9,735.0 L376.6,737.6 L374.4,740.6 L372.2,743.9 L370.0,747.5 L367.8,751.4 L365.7,755.5 L363.7,759.8 L361.7,764.4 L359.8,769.1 L357.9,773.9 L356.1,778.9 L354.4,784.0 L352.7,789.2 L351.2,794.5 L349.7,799.8 L348.3,805.0 L347.0,810.3 L345.7,815.6 L344.6,820.8 L343.5,826.0 L342.6,831.1 L341.7,836.1 L340.9,841.0 L340.3,845.8 L339.7,850.5 L339.2,855.1 L338.8,859.5 L338.5,863.7 L338.3,867.9 L338.2,871.8 L338.2,875.6 L338.3,879.2 L338.5,882.7 L338.8,886.0 L339.2,889.1 L339.7,892.1 L340.3,894.9 L340.9,897.5 L341.7,899.9 L342.6,902.2 L343.6,904.3 L344.6,906.2 L345.8,908.0 L347.0,909.6 L348.3,911.1 L349.7,912.3 L351.2,913.5 L352.8,914.4 L354.4,915.2 L356.1,915.8 L357.9,916.3 L359.8,916.6 L361.7,916.8 L363.7,916.8 L365.8,916.6 L367.9,916.3 L370.0,915.8 L372.2,915.2 L374.4,914.4 L376.7,913.5 L379.0,912.4 L381.3,911.1 L383.6,909.6 L385.9,908.0 L388.3,906.3 L390.6,904.3 L392.9,902.2 L395.2,900.0 L397.5,897.5 L399.7,894.9 L401.9,892.1 L404.0,889.2 L406.1,886.1 L408.1,882.8 L410.1,879.3 L411.9,875.7 L413.7,871.9 L415.4,867.9 L417.0,863.8 L418.4,859.6 L419.8,855.2 L421.0,850.6 L422.2,845.9 L423.1,841.1 L424.0,836.2 L424.7,831.2 L425.3,826.1 L425.7,820.9 L426.0,815.7 L426.2,810.4 L426.2,805.1 L426.0,799.8 L425.7,794.6 L425.3,789.3 L424.7,784.1 L424.0,779.0 L423.1,774.0 L422.1,769.2 L421.0,764.4 L419.8,759.9 L418.4,755.6Z" fill="#000" fill-opacity="0.1" stroke="#000" stroke-opacity="0.3" stroke-width="1" stroke-dasharray="1.5,1.5"/>
<path d="M447.2,673.9 L445.5,669.3 L443.7,665.1 L441.8,661.3 L439.8,657.8 L437.7,654.8 L435.5,652.2 L433.2,650.1 L430.9,648.5 L428.5,647.4 L426.1,646.7 L423.6,646.5 L421.0,646.9 L418.5,647.7 L415.9,649.0 L413.3,650.8 L410.7,653.1 L408.1,655.8 L405.5,659.0 L402.9,662.6 L400.4,666.5 L397.9,670.9 L395.4,675.6 L393.0,680.6 L390.6,685.9 L388.3,691.4 L386.1,697.2 L383.9,703.2 L381.8,709.4 L379.7,715.7 L377.7,722.1 L375.9,728.6 L374.0,735.2 L372.3,741.8 L370.7,748.4 L369.2,755.0 L367.7,761.5 L366.4,768.0 L365.2,774.4 L364.0,780.6 L363.0,786.8 L362.0,792.9 L361.2,798.7 L360.5,804.5 L359.9,810.0 L359.4,815.4 L359.0,820.6 L358.7,825.6 L358.5,830.4 L358.4,835.0 L358.5,839.4 L358.6,843.6 L358.9,847.6 L359.2,851.4 L359.7,854.9 L360.3,858.3 L360.9,861.4 L361.7,864.3 L362.6,867.0 L363.6,869.5 L364.7,871.8 L365.9,873.9 L367.3,875.7 L368.7,877.4 L370.2,878.9 L371.7,880.1 L373.4,881.2 L375.2,882.1 L377.1,882.7 L379.0,883.2 L381.0,883.4 L383.1,883.5 L385.3,883.4 L387.5,883.0 L389.8,882.5 L392.2,881.8 L394.6,880.8 L397.0,879.7 L399.5,878.4 L402.1,876.8 L404.6,875.1 L407.2,873.2 L409.8,871.0 L412.4,868.7 L415.0,866.1 L417.6,863.3 L420.1,860.3 L422.7,857.1 L425.2,853.7 L427.6,850.1 L430.1,846.2 L432.4,842.2 L434.7,837.9 L436.9,833.4 L439.1,828.8 L441.1,823.9 L443.1,818.8 L444.9,813.5 L446.6,808.1 L448.2,802.5 L449.7,796.7 L451.0,790.7 L452.2,784.7 L453.3,778.4 L454.2,772.1 L454.9,765.7 L455.5,759.2 L456.0,752.7 L456.2,746.1 L456.3,739.5 L456.3,732.9 L456.1,726.3 L455.7,719.9 L455.2,713.5 L454.5,707.2 L453.6,701.1 L452.6,695.2 L451.5,689.5 L450.2,684.0 L448.8,678.8Z" fill="#000" fill-opacity="0.1" stroke="#000" stroke-opacity="0.3" stroke-width="1" stroke-dasharray="1.5,1.5"/>
<path d="M456.0,799.0 L454.1,795.8 L452.2,792.8 L450.1,790.0 L448.0,787.6 L445.7,785.3 L443.4,783.4 L441.0,781.8 L438.5,780.4 L436.0,779.4 L433.4,778.8 L430.8,778.4 L428.2,778.4 L425.5,778.7 L422.8,779.3 L420.1,780.3 L417.4,781.5 L414.8,783.1 L412.1,785.0 L409.5,787.2 L406.9,789.6 L404.3,792.3 L401.8,795.3 L399.3,798.4 L396.9,801.8 L394.5,805.4 L392.3,809.1 L390.0,813.0 L387.9,817.0 L385.9,821.2 L383.9,825.4 L382.0,829.7 L380.2,834.0 L378.5,838.4 L376.9,842.8 L375.4,847.2 L374.0,851.5 L372.6,855.9 L371.4,860.2 L370.3,864.4 L369.3,868.6 L368.5,872.7 L367.7,876.6 L367.0,880.5 L366.5,884.3 L366.0,888.0 L365.7,891.6 L365.5,895.0 L365.4,898.3 L365.4,901.4 L365.5,904.5 L365.8,907.4 L366.1,910.1 L366.6,912.7 L367.1,915.2 L367.8,917.5 L368.6,919.7 L369.5,921.8 L370.5,923.7 L371.6,925.5 L372.9,927.1 L374.2,928.6 L375.6,929.9 L377.1,931.1 L378.8,932.2 L380.5,933.2 L382.3,934.0 L384.2,934.6 L386.2,935.2 L388.3,935.6 L390.4,935.9 L392.6,936.0 L394.9,936.0 L397.3,935.9 L399.7,935.6 L402.2,935.3 L404.7,934.7 L407.3,934.1 L409.9,933.3 L412.5,932.4 L415.2,931.3 L417.9,930.1 L420.6,928.8 L423.3,927.4 L425.9,925.7 L428.6,924.0 L431.2,922.1 L433.9,920.1 L436.4,917.9 L438.9,915.6 L441.4,913.2 L443.8,910.6 L446.1,907.9 L448.3,905.0 L450.5,902.0 L452.5,898.8 L454.4,895.6 L456.3,892.1 L457.9,888.6 L459.5,885.0 L460.9,881.2 L462.2,877.3 L463.3,873.3 L464.3,869.3 L465.1,865.1 L465.7,860.9 L466.2,856.6 L466.6,852.3 L466.7,847.9 L466.7,843.5 L466.5,839.1 L466.2,834.8 L465.6,830.4 L465.0,826.1 L464.1,821.9 L463.1,817.7 L462.0,813.7 L460.7,809.8 L459.2,806.0 L457.7,802.4Z" fill="#000" fill-opacity="0.1" stroke="#000" stroke-opacity="0.3" stroke-width="1" stroke-dasharray="1.5,1.5"/>
<path d="M475.3,742.5 L473.6,739.1 L471.7,736.0 L469.7,733.3 L467.7,730.8 L465.4,728.7 L463.1,727.0 L460.7,725.7 L458.3,724.7 L455.7,724.2 L453.1,724.0 L450.4,724.2 L447.7,724.9 L444.9,725.9 L442.1,727.3 L439.3,729.1 L436.4,731.2 L433.6,733.7 L430.8,736.6 L427.9,739.7 L425.1,743.2 L422.4,746.9 L419.6,750.9 L417.0,755.1 L414.3,759.5 L411.7,764.1 L409.2,768.9 L406.7,773.9 L404.4,778.9 L402.0,784.0 L399.8,789.2 L397.7,794.5 L395.6,799.8 L393.7,805.1 L391.8,810.3 L390.0,815.6 L388.4,820.8 L386.8,825.9 L385.3,830.9 L384.0,835.9 L382.8,840.7 L381.6,845.5 L380.6,850.1 L379.7,854.5 L379.0,858.9 L378.3,863.0 L377.7,867.1 L377.3,870.9 L377.0,874.6 L376.8,878.2 L376.8,881.6 L376.8,884.8 L377.0,887.8 L377.3,890.7 L377.7,893.4 L378.2,895.9 L378.8,898.3 L379.6,900.4 L380.5,902.5 L381.5,904.3 L382.6,906.0 L383.8,907.5 L385.1,908.9 L386.5,910.1 L388.1,911.1 L389.7,911.9 L391.5,912.6 L393.3,913.2 L395.3,913.6 L397.3,913.8 L399.4,913.9 L401.6,913.8 L403.9,913.5 L406.3,913.1 L408.8,912.5 L411.3,911.8 L413.9,910.9 L416.5,909.9 L419.2,908.6 L421.9,907.3 L424.7,905.7 L427.4,904.0 L430.3,902.1 L433.1,900.1 L435.9,897.9 L438.8,895.5 L441.6,892.9 L444.4,890.2 L447.2,887.3 L449.9,884.2 L452.6,881.0 L455.2,877.6 L457.8,874.0 L460.3,870.3 L462.7,866.4 L465.0,862.3 L467.3,858.1 L469.4,853.8 L471.4,849.3 L473.2,844.6 L475.0,839.9 L476.6,835.0 L478.0,830.0 L479.3,825.0 L480.5,819.8 L481.4,814.6 L482.2,809.4 L482.9,804.1 L483.3,798.8 L483.6,793.6 L483.7,788.3 L483.6,783.1 L483.4,778.0 L483.0,773.0 L482.4,768.1 L481.6,763.3 L480.6,758.7 L479.5,754.3 L478.3,750.1 L476.8,746.2Z" fill="#000" fill-opacity="0.1" stroke="#000" stroke-opacity="0.3" stroke-width="1" stroke-dasharray="1.5,1.5"/>
<path d="M460.5,480.4 L458.4,473.3 L456.1,466.9 L453.7,461.1 L451.1,455.9 L448.4,451.5 L445.6,447.7 L442.7,444.7 L439.8,442.5 L436.7,441.0 L433.6,440.4 L430.4,440.5 L427.1,441.4 L423.9,443.2 L420.6,445.7 L417.3,448.9 L414.0,452.9 L410.7,457.6 L407.4,463.0 L404.2,469.0 L401.0,475.7 L397.8,482.9 L394.7,490.7 L391.6,498.9 L388.6,507.5 L385.7,516.6 L382.9,526.0 L380.2,535.6 L377.5,545.5 L374.9,555.6 L372.5,565.9 L370.1,576.2 L367.9,586.6 L365.7,597.1 L363.7,607.5 L361.8,617.8 L360.0,628.0 L358.3,638.1 L356.7,648.1 L355.3,657.9 L354.0,667.4 L352.8,676.7 L351.8,685.8 L350.8,694.6 L350.0,703.2 L349.4,711.4 L348.8,719.3 L348.4,727.0 L348.1,734.3 L348.0,741.2 L347.9,747.9 L348.1,754.2 L348.3,760.2 L348.7,765.8 L349.2,771.1 L349.8,776.1 L350.5,780.8 L351.4,785.1 L352.4,789.1 L353.6,792.8 L354.8,796.1 L356.2,799.1 L357.7,801.8 L359.4,804.2 L361.1,806.3 L363.0,808.1 L365.0,809.6 L367.1,810.7 L369.3,811.6 L371.6,812.1 L374.1,812.4 L376.6,812.3 L379.2,812.0 L381.9,811.3 L384.7,810.4 L387.6,809.1 L390.6,807.5 L393.6,805.6 L396.7,803.4 L399.9,800.9 L403.1,798.1 L406.3,795.0 L409.6,791.5 L412.8,787.7 L416.1,783.6 L419.4,779.2 L422.7,774.4 L426.0,769.3 L429.3,763.9 L432.5,758.2 L435.6,752.1 L438.7,745.6 L441.7,738.9 L444.7,731.8 L447.5,724.4 L450.2,716.6 L452.8,708.6 L455.3,700.3 L457.6,691.6 L459.8,682.7 L461.8,673.6 L463.7,664.1 L465.4,654.5 L466.8,644.7 L468.1,634.7 L469.2,624.5 L470.1,614.2 L470.8,603.9 L471.3,593.5 L471.5,583.0 L471.5,572.7 L471.4,562.3 L471.0,552.1 L470.4,542.1 L469.6,532.3 L468.5,522.7 L467.3,513.4 L465.9,504.5 L464.3,496.0 L462.5,487.9Z" fill="#000" fill-opacity="0.1" stroke="#000" stroke-opacity="0.3" stroke-width="1" stroke-dasharray="1.5,1.5"/>
<path d="M596.2,515.3 L593.0,508.9 L589.5,503.0 L585.8,497.7 L581.8,493.0 L577.7,488.8 L573.5,485.3 L569.1,482.5 L564.5,480.4 L559.9,478.9 L555.1,478.2 L550.3,478.1 L545.4,478.8 L540.5,480.2 L535.6,482.2 L530.6,485.0 L525.6,488.4 L520.7,492.4 L515.8,497.1 L510.9,502.4 L506.1,508.2 L501.4,514.5 L496.8,521.3 L492.2,528.6 L487.8,536.2 L483.4,544.3 L479.2,552.6 L475.2,561.2 L471.2,570.1 L467.5,579.1 L463.8,588.3 L460.3,597.7 L457.0,607.0 L453.9,616.4 L450.9,625.9 L448.1,635.2 L445.4,644.5 L443.0,653.7 L440.7,662.8 L438.6,671.7 L436.7,680.5 L435.0,689.1 L433.5,697.4 L432.1,705.5 L431.0,713.4 L430.0,721.0 L429.3,728.3 L428.7,735.4 L428.3,742.2 L428.2,748.7 L428.2,754.9 L428.4,760.8 L428.8,766.4 L429.4,771.7 L430.1,776.7 L431.1,781.4 L432.3,785.8 L433.6,789.8 L435.2,793.6 L436.9,797.1 L438.9,800.3 L441.0,803.2 L443.3,805.8 L445.7,808.1 L448.4,810.1 L451.2,811.8 L454.2,813.2 L457.4,814.4 L460.7,815.3 L464.2,815.8 L467.9,816.1 L471.7,816.2 L475.6,815.9 L479.7,815.3 L484.0,814.5 L488.3,813.4 L492.7,812.0 L497.3,810.3 L502.0,808.3 L506.7,806.0 L511.5,803.5 L516.4,800.6 L521.3,797.5 L526.2,794.0 L531.2,790.3 L536.1,786.2 L541.1,781.9 L546.0,777.2 L550.9,772.3 L555.7,767.0 L560.4,761.5 L565.1,755.6 L569.6,749.4 L574.0,743.0 L578.2,736.2 L582.3,729.2 L586.2,721.9 L589.9,714.3 L593.4,706.5 L596.6,698.4 L599.6,690.0 L602.4,681.5 L604.8,672.8 L607.0,663.9 L608.9,654.8 L610.5,645.6 L611.7,636.3 L612.7,627.0 L613.3,617.5 L613.6,608.1 L613.6,598.8 L613.3,589.4 L612.6,580.2 L611.6,571.2 L610.3,562.3 L608.7,553.6 L606.8,545.2 L604.5,537.2 L602.0,529.5 L599.3,522.2Z" fill="#000" fill-opacity="0.1" stroke="#000" stroke-opacity="0.3" stroke-width="1" stroke-dasharray="1.5,1.5"/>
<path d="M801.8,742.8 L796.6,738.6 L791.1,734.8 L785.2,731.2 L779.1,728.0 L772.7,725.1 L766.2,722.7 L759.4,720.6 L752.4,718.9 L745.3,717.6 L738.1,716.8 L730.8,716.4 L723.4,716.4 L716.0,716.8 L708.6,717.7 L701.1,719.1 L693.7,720.8 L686.4,722.9 L679.1,725.4 L671.9,728.3 L664.9,731.6 L657.9,735.2 L651.1,739.1 L644.4,743.3 L637.9,747.7 L631.6,752.4 L625.5,757.3 L619.6,762.4 L613.9,767.7 L608.5,773.1 L603.3,778.6 L598.3,784.2 L593.5,789.8 L589.0,795.4 L584.8,801.1 L580.9,806.8 L577.2,812.4 L573.8,818.0 L570.6,823.5 L567.7,828.9 L565.1,834.2 L562.8,839.4 L560.8,844.5 L559.1,849.5 L557.6,854.3 L556.5,858.9 L555.6,863.4 L555.0,867.7 L554.7,871.9 L554.7,875.9 L554.9,879.7 L555.5,883.3 L556.3,886.7 L557.5,890.0 L558.9,893.1 L560.6,896.0 L562.6,898.7 L564.9,901.2 L567.4,903.6 L570.3,905.7 L573.4,907.8 L576.8,909.6 L580.4,911.2 L584.4,912.7 L588.5,914.0 L593.0,915.2 L597.7,916.2 L602.7,917.0 L607.9,917.6 L613.3,918.1 L619.0,918.4 L624.8,918.6 L630.9,918.6 L637.2,918.4 L643.7,918.1 L650.3,917.6 L657.1,916.9 L664.0,916.1 L671.1,915.1 L678.3,913.9 L685.6,912.6 L692.9,911.1 L700.3,909.4 L707.7,907.5 L715.1,905.5 L722.6,903.3 L729.9,900.9 L737.3,898.4 L744.5,895.6 L751.6,892.7 L758.6,889.6 L765.4,886.3 L772.0,882.9 L778.4,879.2 L784.5,875.4 L790.4,871.4 L796.0,867.2 L801.2,862.9 L806.1,858.4 L810.7,853.7 L814.8,848.9 L818.6,843.9 L821.9,838.8 L824.8,833.6 L827.2,828.3 L829.2,822.9 L830.7,817.3 L831.7,811.8 L832.2,806.1 L832.2,800.5 L831.8,794.8 L830.8,789.1 L829.4,783.5 L827.5,777.9 L825.1,772.5 L822.3,767.1 L819.0,761.8 L815.3,756.8 L811.2,751.9 L806.7,747.2Z" fill="#000" fill-opacity="0.1" stroke="#000" stroke-opacity="0.3" stroke-width="1" stroke-dasharray="1.5,1.5"/>
<path d="M932.7,684.7 L926.3,679.3 L919.6,674.3 L912.5,669.7 L905.1,665.6 L897.3,661.9 L889.3,658.7 L881.0,656.0 L872.6,653.8 L863.9,652.2 L855.2,651.1 L846.3,650.7 L837.3,650.7 L828.2,651.4 L819.2,652.6 L810.1,654.4 L801.1,656.7 L792.2,659.5 L783.3,662.8 L774.5,666.7 L765.9,671.0 L757.4,675.7 L749.1,680.8 L741.0,686.3 L733.1,692.1 L725.4,698.2 L718.0,704.6 L710.8,711.2 L703.9,718.0 L697.2,725.0 L690.9,732.1 L684.8,739.2 L679.0,746.4 L673.5,753.7 L668.4,760.9 L663.6,768.1 L659.1,775.3 L654.9,782.4 L651.0,789.3 L647.5,796.2 L644.4,802.8 L641.5,809.4 L639.1,815.7 L636.9,821.9 L635.1,827.9 L633.7,833.7 L632.6,839.2 L631.8,844.6 L631.4,849.7 L631.4,854.6 L631.7,859.2 L632.3,863.7 L633.3,867.9 L634.7,871.9 L636.4,875.6 L638.4,879.1 L640.8,882.4 L643.6,885.5 L646.6,888.3 L650.0,890.9 L653.8,893.4 L657.9,895.6 L662.3,897.5 L667.0,899.3 L672.1,900.9 L677.5,902.2 L683.2,903.4 L689.2,904.4 L695.4,905.1 L702.0,905.7 L708.9,906.0 L716.0,906.2 L723.4,906.2 L731.0,906.0 L738.8,905.5 L746.9,904.9 L755.1,904.1 L763.6,903.1 L772.1,901.9 L780.9,900.5 L789.7,898.8 L798.6,897.0 L807.6,895.0 L816.7,892.7 L825.7,890.2 L834.8,887.6 L843.8,884.7 L852.7,881.5 L861.5,878.2 L870.2,874.6 L878.7,870.8 L887.0,866.7 L895.1,862.5 L902.9,858.0 L910.5,853.2 L917.7,848.3 L924.5,843.1 L931.0,837.7 L937.0,832.1 L942.6,826.3 L947.7,820.2 L952.3,814.0 L956.4,807.6 L960.0,801.0 L963.0,794.3 L965.4,787.4 L967.3,780.4 L968.6,773.3 L969.3,766.2 L969.3,758.9 L968.8,751.7 L967.7,744.4 L966.0,737.2 L963.7,730.1 L960.9,723.0 L957.4,716.1 L953.5,709.4 L949.0,702.8 L944.0,696.5 L938.6,690.5Z" fill="#000" fill-opacity="0.1" stroke="#000" stroke-opacity="0.3" stroke-width="1" stroke-dasharray="1.5,1.5"/>
<path d="M997.8,731.2 L990.8,725.5 L983.4,720.2 L975.5,715.4 L967.3,710.9 L958.8,707.0 L949.9,703.6 L940.8,700.7 L931.5,698.4 L921.9,696.6 L912.2,695.5 L902.4,695.0 L892.5,695.1 L882.5,695.8 L872.5,697.1 L862.6,699.0 L852.6,701.5 L842.8,704.5 L833.0,708.1 L823.3,712.2 L813.8,716.8 L804.5,721.8 L795.4,727.2 L786.4,733.0 L777.8,739.1 L769.3,745.5 L761.1,752.2 L753.2,759.1 L745.6,766.1 L738.3,773.3 L731.3,780.5 L724.6,787.9 L718.3,795.2 L712.3,802.5 L706.6,809.8 L701.3,817.0 L696.4,824.1 L691.8,831.0 L687.6,837.9 L683.7,844.6 L680.3,851.0 L677.2,857.3 L674.4,863.4 L672.1,869.3 L670.1,875.0 L668.5,880.4 L667.3,885.6 L666.5,890.6 L666.1,895.3 L666.0,899.8 L666.3,904.1 L667.0,908.1 L668.1,911.9 L669.6,915.5 L671.5,918.9 L673.7,922.0 L676.3,924.9 L679.3,927.7 L682.6,930.2 L686.4,932.5 L690.5,934.6 L695.0,936.5 L699.8,938.2 L705.0,939.7 L710.5,941.1 L716.4,942.3 L722.7,943.3 L729.3,944.1 L736.2,944.7 L743.4,945.2 L750.9,945.5 L758.7,945.7 L766.8,945.7 L775.2,945.5 L783.8,945.1 L792.7,944.6 L801.7,943.9 L811.0,943.0 L820.5,941.9 L830.1,940.7 L839.8,939.3 L849.7,937.7 L859.6,935.9 L869.5,934.0 L879.5,931.8 L889.5,929.4 L899.4,926.9 L909.3,924.1 L919.0,921.1 L928.6,917.9 L938.0,914.5 L947.2,910.8 L956.1,907.0 L964.8,902.8 L973.1,898.5 L981.1,893.9 L988.6,889.1 L995.8,884.1 L1002.5,878.8 L1008.6,873.3 L1014.3,867.6 L1019.4,861.6 L1024.0,855.5 L1027.9,849.1 L1031.3,842.6 L1034.0,835.8 L1036.1,829.0 L1037.5,822.0 L1038.3,814.8 L1038.4,807.6 L1037.8,800.3 L1036.6,793.0 L1034.7,785.7 L1032.2,778.4 L1029.0,771.1 L1025.2,764.0 L1020.9,757.0 L1015.9,750.2 L1010.4,743.6 L1004.4,737.3Z" fill="#000" fill-opacity="0.1" stroke="#000" stroke-opacity="0.3" stroke-width="1" stroke-dasharray="1.5,1.5"/>
<path d="M943.2,450.2 L935.9,435.7 L928.2,421.9 L920.1,409.2 L911.7,397.4 L903.0,386.8 L894.0,377.3 L884.8,369.2 L875.4,362.5 L865.8,357.2 L856.1,353.3 L846.3,351.0 L836.4,350.3 L826.5,351.1 L816.6,353.4 L806.8,357.2 L797.0,362.6 L787.4,369.4 L777.8,377.5 L768.4,387.0 L759.1,397.6 L750.1,409.4 L741.2,422.2 L732.6,435.9 L724.3,450.5 L716.1,465.7 L708.3,481.5 L700.8,497.8 L693.5,514.4 L686.6,531.4 L679.9,548.4 L673.6,565.5 L667.7,582.6 L662.0,599.6 L656.8,616.3 L651.8,632.8 L647.2,649.0 L643.0,664.8 L639.1,680.1 L635.6,695.0 L632.5,709.4 L629.7,723.3 L627.3,736.6 L625.3,749.4 L623.6,761.6 L622.3,773.2 L621.4,784.3 L620.8,794.7 L620.6,804.6 L620.8,814.0 L621.4,822.8 L622.3,831.1 L623.6,838.8 L625.3,846.1 L627.3,852.8 L629.7,859.1 L632.4,864.9 L635.6,870.3 L639.1,875.3 L642.9,879.8 L647.1,883.9 L651.7,887.7 L656.6,891.1 L661.9,894.1 L667.5,896.8 L673.5,899.1 L679.8,901.1 L686.4,902.8 L693.4,904.2 L700.6,905.3 L708.1,906.0 L716.0,906.5 L724.1,906.6 L732.5,906.5 L741.1,906.0 L749.9,905.2 L759.0,904.2 L768.2,902.8 L777.6,901.1 L787.2,899.1 L796.8,896.7 L806.6,894.1 L816.4,891.0 L826.3,887.6 L836.2,883.9 L846.1,879.7 L855.9,875.2 L865.6,870.2 L875.2,864.8 L884.6,859.0 L893.8,852.7 L902.8,845.9 L911.6,838.7 L920.0,830.9 L928.1,822.6 L935.8,813.8 L943.0,804.5 L949.9,794.5 L956.3,784.0 L962.1,773.0 L967.4,761.4 L972.2,749.1 L976.4,736.4 L980.0,723.0 L982.9,709.2 L985.2,694.7 L986.9,679.8 L987.9,664.5 L988.2,648.7 L987.9,632.5 L986.9,616.0 L985.3,599.2 L983.0,582.3 L980.0,565.2 L976.5,548.1 L972.3,531.0 L967.5,514.1 L962.2,497.5 L956.4,481.2 L950.0,465.4Z" fill="#000" fill-opacity="0.1" stroke="#000" stroke-opacity="0.3" stroke-width="1" stroke-dasharray="1.5,1.5"/>
<path d="M1080.1,248.2 L1070.5,221.1 L1060.4,195.3 L1049.7,171.2 L1038.6,149.0 L1027.1,128.9 L1015.2,111.2 L1003.0,96.0 L990.6,83.6 L977.9,74.0 L965.1,67.4 L952.2,63.9 L939.2,63.5 L926.2,66.2 L913.2,72.0 L900.3,80.9 L887.5,92.6 L874.8,107.1 L862.3,124.2 L850.0,143.8 L838.0,165.5 L826.2,189.1 L814.7,214.4 L803.5,241.2 L792.6,269.2 L782.1,298.1 L771.9,327.6 L762.2,357.6 L752.8,387.7 L743.8,417.9 L735.3,447.8 L727.2,477.3 L719.5,506.2 L712.2,534.4 L705.4,561.8 L699.0,588.3 L693.1,613.8 L687.7,638.2 L682.7,661.5 L678.1,683.7 L674.0,704.8 L670.4,724.6 L667.3,743.4 L664.5,761.0 L662.3,777.5 L660.5,792.9 L659.2,807.3 L658.3,820.7 L657.9,833.1 L658.0,844.7 L658.5,855.3 L659.5,865.2 L660.9,874.2 L662.8,882.6 L665.2,890.2 L668.0,897.3 L671.3,903.7 L675.0,909.5 L679.2,914.8 L683.9,919.6 L689.0,923.9 L694.6,927.7 L700.6,931.2 L707.1,934.2 L714.0,936.8 L721.4,939.1 L729.2,941.1 L737.4,942.7 L746.1,943.9 L755.1,944.9 L764.6,945.5 L774.5,945.9 L784.7,945.9 L795.3,945.6 L806.3,945.1 L817.5,944.2 L829.1,943.0 L841.0,941.5 L853.1,939.6 L865.5,937.4 L878.0,934.9 L890.7,932.0 L903.6,928.6 L916.5,924.9 L929.5,920.7 L942.5,916.0 L955.5,910.9 L968.4,905.2 L981.1,898.9 L993.7,892.1 L1006.1,884.6 L1018.2,876.4 L1030.0,867.5 L1041.5,857.9 L1052.5,847.4 L1063.0,836.1 L1073.0,823.9 L1082.4,810.8 L1091.3,796.6 L1099.4,781.5 L1106.9,765.2 L1113.6,747.9 L1119.6,729.5 L1124.7,709.9 L1129.0,689.1 L1132.5,667.3 L1135.0,644.2 L1136.7,620.1 L1137.5,594.9 L1137.4,568.6 L1136.4,541.4 L1134.5,513.4 L1131.7,484.6 L1128.0,455.2 L1123.5,425.4 L1118.1,395.3 L1112.0,365.2 L1105.1,335.1 L1097.4,305.5 L1089.1,276.4Z" fill="#000" fill-opacity="0.1" stroke="#000" stroke-opacity="0.3" stroke-width="1" stroke-dasharray="1.5,1.5"/>
<polyline points="846.6,476.4 919.6,537.3 951.7,756.8 892.4,772.5 749.0,846.5 649.3,783.2 529.1,824.7 510.5,717.3 534.8,698.8 555.0,794.6 576.8,658.0 579.4,820.8 583.4,817.2 580.3,798.6 584.0,751.6 548.0,751.8 571.2,771.5 575.0,832.6 548.0,877.0 501.9,798.6 449.0,674.5 411.1,648.4 512.5,720.0 540.0,720.8 584.9,864.6 539.7,876.4 478.6,873.4 438.8,884.8 406.8,916.5 383.0,880.0 379.5,878.5 363.8,888.0 400.0,879.5 405.5,923.5 407.8,932.8 389.0,872.5 355.5,846.5 377.8,843.5 402.5,791.8 411.0,875.0 424.9,840.3 402.0,670.5 508.8,685.3 675.1,841.7 777.7,811.7 826.7,859.5 777.7,736.5 857.7,736.5" fill="none" stroke="#000" stroke-width="1"/>
</g>
<g font-family="&quot;Liberation Sans&quot;, Arial, sans-serif" font-size="15.6" fill="#f00" text-anchor="middle">
<text transform="translate(846.6,482.0) scale(0.94,1)">1978</text>
<text transform="translate(919.6,542.9) scale(0.94,1)">1979</text>
<text transform="translate(951.7,762.4) scale(0.94,1)">1980</text>
<text transform="translate(892.4,778.1) scale(0.94,1)">1981</text>
<text transform="translate(749.0,852.1) scale(0.94,1)">1982</text>
<text transform="translate(649.3,788.8) scale(0.94,1)">1983</text>
<text transform="translate(529.1,830.3) scale(0.94,1)">1984</text>
<text transform="translate(510.5,722.9) scale(0.94,1)">1985</text>
<text transform="translate(534.8,704.4) scale(0.94,1)">1986</text>
<text transform="translate(555.0,800.2) scale(0.94,1)">1987</text>
<text transform="translate(576.8,663.6) scale(0.94,1)">1988</text>
<text transform="translate(579.4,826.4) scale(0.94,1)">1989</text>
<text transform="translate(583.4,822.8) scale(0.94,1)">1990</text>
<text transform="translate(580.3,804.2) scale(0.94,1)">1991</text>
<text transform="translate(584.0,757.2) scale(0.94,1)">1992</text>
<text transform="translate(548.0,757.4) scale(0.94,1)">1993</text>
<text transform="translate(571.2,777.1) scale(0.94,1)">1994</text>
<text transform="translate(575.0,838.2) scale(0.94,1)">1995</text>
<text transform="translate(548.0,882.6) scale(0.94,1)">1996</text>
<text transform="translate(501.9,804.2) scale(0.94,1)">1997</text>
<text transform="translate(449.0,680.1) scale(0.94,1)">1998</text>
<text transform="translate(411.1,654.0) scale(0.94,1)">1999</text>
<text transform="translate(512.5,725.6) scale(0.94,1)">2000</text>
<text transform="translate(540.0,726.4) scale(0.94,1)">2001</text>
<text transform="translate(584.9,870.2) scale(0.94,1)">2002</text>
<text transform="translate(539.7,882.0) scale(0.94,1)">2003</text>
<text transform="translate(478.6,879.0) scale(0.94,1)">2004</text>
<text transform="translate(438.8,890.4) scale(0.94,1)">2005</text>
<text transform="translate(406.8,922.1) scale(0.94,1)">2006</text>
<text transform="translate(383.0,885.6) scale(0.94,1)">2007</text>
<text transform="translate(379.5,884.1) scale(0.94,1)">2008</text>
<text transform="translate(363.8,893.6) scale(0.94,1)">2009</text>
<text transform="translate(400.0,885.1) scale(0.94,1)">2010</text>
<text transform="translate(405.5,929.1) scale(0.94,1)">2011</text>
<text transform="translate(407.8,938.4) scale(0.94,1)">2012</text>
<text transform="translate(389.0,878.1) scale(0.94,1)">2013</text>
<text transform="translate(355.5,852.1) scale(0.94,1)">2014</text>
<text transform="translate(377.8,849.1) scale(0.94,1)">2015</text>
<text transform="translate(402.5,797.4) scale(0.94,1)">2016</text>
<text transform="translate(411.0,880.6) scale(0.94,1)">2017</text>
<text transform="translate(424.9,845.9) scale(0.94,1)">2018</text>
<text transform="translate(402.0,676.1) scale(0.94,1)">2019</text>
<text transform="translate(508.8,690.9) scale(0.94,1)">2020</text>
<text transform="translate(675.1,847.3) scale(0.94,1)">2021</text>
<text transform="translate(777.7,817.3) scale(0.94,1)">2022</text>
<text transform="translate(826.7,865.1) scale(0.94,1)">2023</text>
<text transform="translate(777.7,742.1) scale(0.94,1)">2024</text>
<text transform="translate(857.7,742.1) scale(0.94,1)">2025</text>
</g>
<rect x="120.1" y="24" width="1055.9" height="1055.8" fill="none" stroke="#8e8e8e" stroke-width="1.5"/>
<g stroke="#7a7a7a" stroke-width="1.2" fill="none">
<line x1="159.3" y1="1079.8" x2="1059.5" y2="1079.8" stroke="#4d4d4d" stroke-width="1.5"/>
<line x1="159.30" y1="1080" x2="159.30" y2="1092"/>
<line x1="339.34" y1="1080" x2="339.34" y2="1092"/>
<line x1="519.38" y1="1080" x2="519.38" y2="1092"/>
<line x1="699.42" y1="1080" x2="699.42" y2="1092"/>
<line x1="879.46" y1="1080" x2="879.46" y2="1092"/>
<line x1="1059.50" y1="1080" x2="1059.50" y2="1092"/>
<line x1="120.1" y1="1040.5" x2="120.1" y2="38.30" stroke="#4d4d4d" stroke-width="1.5"/>
<line x1="108" y1="1040.50" x2="120" y2="1040.50"/>
<line x1="108" y1="840.06" x2="120" y2="840.06"/>
<line x1="108" y1="639.62" x2="120" y2="639.62"/>
<line x1="108" y1="439.18" x2="120" y2="439.18"/>
<line x1="108" y1="238.74" x2="120" y2="238.74"/>
<line x1="108" y1="38.30" x2="120" y2="38.30"/>
</g>
<g font-family="&quot;Liberation Sans&quot;, Arial, sans-serif" font-size="21" fill="#000" text-anchor="middle">
<text transform="translate(159.30,1123.2) scale(0.955,1)">0e+00</text>
<text transform="translate(339.34,1123.2) scale(0.955,1)">1e+05</text>
<text transform="translate(519.38,1123.2) scale(0.955,1)">2e+05</text>
<text transform="translate(699.42,1123.2) scale(0.955,1)">3e+05</text>
<text transform="translate(879.46,1123.2) scale(0.955,1)">4e+05</text>
<text transform="translate(1059.50,1123.2) scale(0.955,1)">5e+05</text>
<text transform="translate(91.3,1040.50) rotate(-90) scale(0.955,1)">0e+00</text>
<text transform="translate(91.3,840.06) rotate(-90) scale(0.955,1)">1e+07</text>
<text transform="translate(91.3,639.62) rotate(-90) scale(0.955,1)">2e+07</text>
<text transform="translate(91.3,439.18) rotate(-90) scale(0.955,1)">3e+07</text>
<text transform="translate(91.3,238.74) rotate(-90) scale(0.955,1)">4e+07</text>
<text transform="translate(91.3,38.30) rotate(-90) scale(0.955,1)">5e+07</text>
<text transform="translate(648.6,1171) scale(0.955,1)">SSB</text>
<text transform="translate(43.4,552) rotate(-90) scale(0.955,1)">R(age 0)</text>
</g>
<text x="1194.6" y="1198" font-family="&quot;Liberation Sans&quot;, Arial, sans-serif" font-size="10.5" text-anchor="end" fill="#000">stockassessment.org, BM2026_12_newID_nomat_v1, r19647 , git: 1cc464b80f6f</text>
</svg></body></html>
